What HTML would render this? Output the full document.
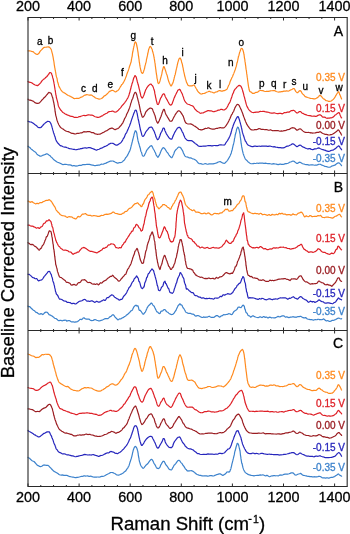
<!DOCTYPE html><html><head><meta charset="utf-8"><style>html,body{margin:0;padding:0;background:#fff;overflow:hidden}svg{display:block;will-change:transform}</style></head><body><svg width="350" height="534" viewBox="0 0 350 534"><rect width="350" height="534" fill="#fff"/><path d="M28.0,50.81 L28.6,50.89 L29.5,50.88 L30.5,50.99 L31.6,51.35 L32.6,51.55 L33.4,51.89 L34.1,52.60 L34.9,53.30 L35.7,53.87 L36.4,54.27 L37.1,54.45 L37.7,54.31 L38.4,53.84 L39.0,53.23 L39.5,52.42 L40.1,51.43 L40.6,50.74 L41.2,50.17 L41.8,49.56 L42.3,49.03 L42.8,48.51 L43.4,47.86 L44.4,47.32 L45.3,47.26 L46.3,47.20 L47.3,47.01 L48.2,46.87 L49.1,47.11 L49.8,47.61 L50.3,48.12 L50.9,48.99 L51.2,49.45 L51.4,50.19 L51.7,51.14 L51.9,52.12 L52.2,53.10 L52.4,53.81 L52.6,54.65 L52.8,55.81 L53.0,56.58 L53.1,57.08 L53.2,57.86 L53.4,58.83 L53.5,59.82 L53.7,60.61 L53.8,61.06 L53.9,61.73 L54.0,62.44 L54.1,63.28 L54.2,64.13 L54.3,64.86 L54.5,65.89 L54.6,66.98 L54.8,67.79 L55.0,68.72 L55.1,69.56 L55.3,70.39 L55.4,71.16 L55.6,72.08 L55.8,73.07 L55.9,74.12 L56.1,75.16 L56.3,76.10 L56.5,76.89 L56.7,77.41 L56.9,77.85 L57.1,78.75 L57.3,80.07 L57.4,81.08 L57.6,81.82 L57.8,82.57 L58.0,83.00 L58.3,83.99 L58.6,85.23 L58.9,86.29 L59.2,86.92 L59.5,87.36 L59.9,87.97 L60.2,88.61 L60.6,89.31 L61.0,90.05 L61.5,90.77 L62.1,91.38 L62.7,91.91 L63.3,92.50 L64.0,92.82 L64.6,92.95 L65.3,93.41 L66.0,93.99 L66.7,94.50 L67.5,95.08 L68.2,95.51 L69.0,95.78 L69.8,96.07 L70.5,96.47 L71.3,96.88 L72.0,97.23 L72.9,97.85 L73.7,98.40 L74.6,98.57 L75.4,98.48 L76.2,98.33 L77.0,98.32 L77.8,98.42 L78.7,98.42 L79.6,98.02 L80.4,97.43 L81.2,97.08 L82.0,96.85 L82.8,96.49 L83.6,95.87 L84.4,95.29 L85.2,95.07 L86.0,94.84 L86.8,94.65 L87.7,94.78 L88.6,94.98 L89.4,95.11 L90.3,95.05 L91.0,94.96 L91.8,95.19 L92.4,95.63 L93.1,96.22 L94.0,96.70 L94.7,97.23 L95.5,97.95 L96.4,98.23 L97.3,98.53 L98.3,98.94 L99.2,99.08 L100.0,98.97 L100.8,98.71 L101.5,98.45 L102.2,98.15 L102.8,97.54 L103.5,96.74 L104.2,96.01 L105.0,95.57 L105.6,95.34 L106.1,94.85 L106.7,94.31 L107.3,93.76 L107.9,93.18 L108.6,92.45 L109.2,91.62 L109.8,91.19 L110.4,91.12 L111.0,90.78 L111.9,90.37 L112.7,90.44 L113.6,90.75 L114.5,91.37 L115.3,91.91 L116.1,91.74 L116.9,91.07 L117.5,90.70 L118.0,90.49 L118.5,89.88 L119.1,89.05 L119.5,88.31 L120.0,87.49 L120.5,86.58 L121.0,85.83 L121.4,85.13 L121.9,84.47 L122.3,84.19 L122.8,83.68 L123.2,82.82 L123.6,82.13 L124.1,81.31 L124.5,80.36 L124.9,79.58 L125.2,78.92 L125.5,78.14 L125.8,77.36 L126.1,76.60 L126.4,75.97 L126.6,75.18 L126.9,74.17 L127.2,73.23 L127.5,72.45 L127.8,71.76 L128.0,71.15 L128.3,70.54 L128.6,69.66 L128.9,68.69 L129.1,67.87 L129.4,67.02 L129.6,66.20 L129.9,65.56 L130.1,64.87 L130.4,64.01 L130.6,63.21 L130.9,62.63 L131.1,61.80 L131.3,60.82 L131.4,59.82 L131.6,58.90 L131.7,58.05 L131.9,57.37 L132.0,56.89 L132.2,56.09 L132.3,54.97 L132.4,53.97 L132.6,52.95 L132.7,52.08 L132.9,51.49 L133.0,50.85 L133.1,50.27 L133.3,49.55 L133.4,48.69 L133.7,47.45 L133.9,46.42 L134.2,45.41 L134.4,44.19 L134.7,43.17 L134.9,42.44 L135.2,41.89 L135.4,41.87 L135.6,42.15 L135.9,42.45 L136.1,42.81 L136.3,43.51 L136.6,44.54 L136.8,45.75 L137.1,47.00 L137.4,48.39 L137.5,49.16 L137.6,49.79 L137.7,50.26 L137.8,51.10 L138.0,52.06 L138.1,52.89 L138.2,53.73 L138.3,54.64 L138.4,55.49 L138.6,56.35 L138.7,57.16 L138.8,58.09 L139.0,59.24 L139.1,60.28 L139.2,61.21 L139.3,62.10 L139.5,62.88 L139.6,63.65 L139.7,64.49 L139.8,65.25 L140.0,66.07 L140.1,66.93 L140.2,67.41 L140.3,67.91 L140.7,69.69 L141.0,71.03 L141.3,72.02 L141.6,72.67 L141.9,73.06 L142.3,73.33 L142.6,73.33 L142.8,73.14 L143.1,72.85 L143.3,72.22 L143.6,71.40 L143.8,70.73 L144.1,69.91 L144.3,69.10 L144.6,68.32 L144.8,66.93 L145.1,65.67 L145.4,64.69 L145.6,63.84 L145.7,63.21 L145.9,62.73 L146.1,61.95 L146.3,60.92 L146.4,59.89 L146.6,59.14 L146.8,58.33 L147.0,57.35 L147.2,56.56 L147.4,55.71 L147.6,54.65 L147.8,53.75 L147.9,53.04 L148.1,52.37 L148.3,51.52 L148.4,50.59 L148.6,49.85 L148.8,49.32 L148.9,48.90 L149.7,46.87 L150.3,46.47 L151.0,47.19 L151.2,47.44 L151.4,47.93 L151.6,48.41 L151.8,48.74 L152.0,49.04 L152.3,49.88 L152.5,51.05 L152.7,51.84 L153.0,52.56 L153.2,53.47 L153.5,54.41 L153.7,55.57 L154.0,57.05 L154.1,57.73 L154.2,58.28 L154.3,58.95 L154.5,59.87 L154.6,60.55 L154.7,61.19 L154.8,62.18 L155.0,63.03 L155.1,63.70 L155.2,64.65 L155.3,65.81 L155.5,66.87 L155.6,67.82 L155.7,68.82 L155.9,69.87 L156.0,70.82 L156.1,71.83 L156.3,73.00 L156.4,73.96 L156.5,74.55 L156.7,75.26 L156.8,76.23 L156.9,77.14 L157.0,78.07 L157.2,78.81 L157.3,79.18 L157.4,79.72 L157.5,80.51 L157.7,81.46 L157.8,82.28 L157.9,82.67 L158.0,82.92 L158.5,83.59 L158.9,83.31 L159.4,82.62 L159.8,81.60 L160.2,80.13 L160.6,78.42 L161.0,76.98 L161.2,76.13 L161.5,75.26 L161.7,74.40 L161.9,73.41 L162.1,72.24 L162.3,71.04 L162.6,70.07 L162.8,69.25 L163.0,68.54 L163.2,67.79 L163.4,67.06 L163.6,66.67 L164.0,66.62 L164.3,67.15 L164.6,68.04 L165.0,69.16 L165.5,70.55 L166.0,72.18 L166.2,72.89 L166.4,73.72 L166.7,74.34 L167.0,74.85 L167.2,75.67 L167.5,76.80 L167.8,78.06 L168.1,79.31 L168.4,80.34 L168.7,81.18 L169.0,81.97 L169.3,82.78 L169.6,83.47 L169.9,84.00 L170.2,84.73 L170.5,85.34 L170.7,85.68 L171.0,85.91 L171.3,86.01 L171.6,85.60 L171.9,84.65 L172.2,84.10 L172.5,83.77 L172.8,83.15 L173.1,82.31 L173.4,81.27 L173.7,80.12 L174.0,78.99 L174.2,77.97 L174.5,76.93 L174.7,75.84 L175.0,75.06 L175.2,74.50 L175.4,73.57 L175.6,72.55 L175.8,71.54 L176.0,70.63 L176.2,69.77 L176.4,68.91 L176.6,68.16 L176.8,67.28 L177.0,66.37 L177.2,65.52 L177.3,64.75 L177.5,64.04 L177.7,63.27 L177.8,62.66 L178.0,62.07 L178.5,60.37 L178.9,59.22 L179.2,58.65 L179.6,58.32 L180.0,57.99 L180.3,58.06 L180.6,58.80 L180.9,59.60 L181.3,60.56 L181.6,61.98 L182.0,63.40 L182.2,63.63 L182.3,64.23 L182.5,65.12 L182.6,65.98 L182.8,66.84 L183.0,67.60 L183.2,68.44 L183.3,69.36 L183.5,70.37 L183.7,71.38 L183.9,72.21 L184.1,73.06 L184.3,73.94 L184.5,74.86 L184.6,75.70 L184.8,76.30 L185.0,76.93 L185.3,78.17 L185.6,79.28 L185.9,80.15 L186.2,81.18 L186.4,82.08 L186.7,82.62 L187.0,83.21 L187.3,83.84 L187.7,84.65 L188.0,85.29 L188.8,85.75 L189.6,85.81 L190.5,85.78 L191.3,85.87 L192.0,85.90 L193.1,85.22 L194.0,85.00 L194.4,85.31 L194.8,86.00 L195.2,86.81 L195.6,87.55 L196.0,88.27 L196.5,89.00 L197.0,89.89 L197.5,90.86 L198.1,91.68 L198.6,92.27 L199.2,92.69 L199.8,93.21 L200.4,93.76 L201.0,94.07 L201.8,94.01 L202.6,93.67 L203.4,93.51 L204.2,93.41 L205.0,93.10 L205.8,92.66 L206.6,92.25 L207.3,92.02 L208.1,91.74 L209.0,91.31 L209.8,91.46 L210.6,91.85 L211.4,92.03 L212.3,92.30 L213.2,92.64 L214.0,92.87 L214.8,92.59 L215.7,92.01 L216.6,91.83 L217.4,91.64 L218.2,91.08 L219.0,90.67 L219.9,90.66 L220.7,90.88 L221.5,91.10 L222.2,91.11 L223.0,90.82 L223.8,90.65 L224.6,90.59 L225.3,90.16 L226.1,89.71 L226.9,89.24 L227.2,88.67 L227.6,87.74 L227.9,86.97 L228.3,86.18 L228.6,85.40 L229.0,84.79 L229.3,84.18 L229.7,83.21 L230.0,82.05 L230.4,81.08 L230.7,80.32 L231.1,79.61 L231.4,78.86 L231.7,78.08 L232.0,77.47 L232.3,76.96 L232.7,76.15 L233.0,75.16 L233.3,74.49 L233.6,73.90 L233.9,73.15 L234.2,72.34 L234.5,71.57 L234.8,70.74 L235.1,69.91 L235.4,69.18 L235.6,68.30 L235.9,67.40 L236.1,66.85 L236.3,66.22 L236.5,65.39 L236.7,64.32 L236.9,63.23 L237.2,62.55 L237.4,61.83 L237.6,60.90 L237.8,59.82 L238.0,58.78 L238.2,57.86 L238.4,57.01 L238.5,56.44 L238.7,55.92 L238.9,55.42 L239.2,54.20 L239.5,52.89 L239.8,51.97 L240.1,51.32 L240.4,50.58 L240.6,49.65 L240.9,48.94 L241.1,48.68 L241.4,48.54 L241.9,48.37 L242.4,48.90 L242.9,50.04 L243.5,52.01 L243.6,52.41 L243.7,53.01 L243.8,53.52 L243.9,54.00 L244.0,54.73 L244.2,55.76 L244.3,56.79 L244.4,57.58 L244.5,58.06 L244.6,58.62 L244.8,59.47 L244.9,60.57 L245.0,61.63 L245.2,62.42 L245.3,63.22 L245.4,64.14 L245.5,64.95 L245.7,65.79 L245.8,66.85 L245.9,67.83 L246.0,68.69 L246.1,69.41 L246.3,70.11 L246.4,70.88 L246.5,71.71 L246.6,72.63 L246.7,73.64 L246.9,74.51 L247.0,75.29 L247.1,76.24 L247.2,77.17 L247.4,77.97 L247.5,78.98 L247.6,79.89 L247.7,80.61 L247.8,81.48 L248.0,82.66 L248.1,83.58 L248.2,84.15 L248.3,84.89 L248.4,85.58 L248.5,86.25 L248.6,87.10 L248.8,87.73 L248.9,88.22 L249.0,88.94 L249.1,89.57 L249.7,91.27 L250.3,91.87 L250.9,91.94 L251.5,92.32 L252.2,93.11 L252.8,93.42 L254.0,93.35 L254.6,93.13 L255.3,92.62 L256.1,92.37 L256.9,92.36 L257.8,92.02 L258.6,91.31 L259.5,90.74 L260.3,90.51 L261.0,90.50 L261.9,90.55 L262.7,90.60 L263.5,90.84 L264.3,91.24 L265.1,91.49 L266.0,91.46 L266.8,91.37 L267.7,91.38 L268.6,91.39 L269.5,91.20 L270.4,90.87 L271.3,90.75 L272.2,90.75 L273.0,90.62 L273.9,90.48 L274.8,90.68 L275.6,91.10 L276.3,91.46 L277.1,91.76 L278.0,91.98 L278.8,92.03 L279.6,91.93 L280.5,91.80 L281.4,91.68 L282.3,91.58 L283.1,91.34 L284.0,91.14 L284.9,91.21 L285.8,91.06 L286.7,90.84 L287.6,91.03 L288.5,91.06 L289.3,90.72 L290.0,90.31 L290.9,89.89 L291.6,89.56 L292.3,89.16 L292.9,88.78 L293.6,88.49 L294.2,88.65 L294.8,89.48 L295.3,90.64 L295.9,91.61 L296.5,92.13 L297.0,92.66 L297.8,92.68 L298.6,91.70 L299.3,90.79 L300.0,90.60 L300.6,90.88 L301.2,91.53 L301.7,92.57 L302.4,93.64 L302.9,94.17 L303.4,94.57 L304.0,95.19 L304.6,95.97 L305.2,96.58 L306.0,96.94 L306.7,97.15 L307.6,97.49 L308.5,97.73 L309.4,98.05 L310.3,98.43 L311.2,98.51 L312.0,98.48 L312.9,98.62 L313.8,98.83 L314.7,98.82 L315.5,98.61 L316.3,98.28 L317.0,97.89 L317.9,97.33 L318.6,96.52 L319.3,95.66 L320.0,95.32 L320.7,95.59 L321.4,96.39 L322.2,97.40 L323.0,98.32 L323.6,98.87 L324.3,99.15 L324.9,99.58 L325.6,100.38 L326.3,100.77 L327.0,100.73 L327.8,101.03 L328.6,101.42 L329.4,101.42 L330.2,101.23 L331.0,101.06 L331.6,100.70 L332.2,100.13 L332.7,99.82 L333.3,99.38 L333.9,98.67 L334.5,97.92 L335.0,97.09 L335.5,96.15 L336.1,95.15 L336.6,94.27 L337.1,93.49 L337.6,92.84 L338.0,92.24 L338.4,91.74 L338.9,92.04 L339.3,93.21 L339.6,94.34 L340.0,95.05 L340.3,95.70 L340.7,96.66 L341.1,97.70 L341.4,98.58 L341.6,98.94" fill="none" stroke="#FF8A1E" stroke-width="1.2" stroke-linejoin="round" stroke-linecap="round"/><path d="M28.0,81.60 L28.5,81.88 L29.2,82.18 L30.1,82.28 L31.0,82.47 L32.0,82.97 L32.7,83.55 L33.5,84.10 L34.3,84.51 L35.1,84.96 L35.9,85.22 L36.7,85.42 L37.4,85.68 L38.1,85.40 L38.8,84.60 L39.5,83.94 L40.1,83.40 L40.8,82.58 L41.4,81.60 L42.0,80.79 L42.6,80.19 L43.2,79.61 L43.7,79.09 L44.3,78.85 L44.9,78.46 L45.4,77.77 L46.0,77.23 L46.6,76.77 L47.3,76.04 L47.9,75.22 L48.6,74.38 L49.2,73.36 L49.7,72.67 L50.2,72.62 L51.0,72.77 L51.5,73.52 L52.0,74.98 L52.2,75.44 L52.4,76.07 L52.6,77.03 L52.8,77.91 L53.0,78.55 L53.2,79.15 L53.4,80.01 L53.6,81.11 L53.8,82.00 L54.0,83.05 L54.1,83.92 L54.3,84.63 L54.4,85.31 L54.5,85.97 L54.6,86.81 L54.8,87.76 L54.9,88.61 L55.0,89.26 L55.1,89.93 L55.3,90.82 L55.4,91.60 L55.5,92.39 L55.7,93.49 L55.8,94.55 L56.0,95.23 L56.2,95.92 L56.3,97.02 L56.5,98.05 L56.7,98.66 L56.9,99.33 L57.1,100.07 L57.3,100.81 L57.5,101.59 L57.7,102.25 L57.9,103.24 L58.1,104.52 L58.3,105.42 L58.5,106.16 L58.8,106.78 L59.0,107.10 L59.4,107.86 L59.9,108.69 L60.4,109.66 L60.9,110.32 L61.4,110.71 L61.9,111.29 L62.4,111.93 L63.0,112.43 L63.6,112.81 L64.2,113.16 L64.9,113.70 L65.5,114.06 L66.3,114.34 L67.1,114.88 L68.0,115.26 L68.7,115.36 L69.4,115.75 L70.2,116.22 L71.1,116.29 L71.9,116.27 L72.8,116.59 L73.7,117.06 L74.6,117.36 L75.4,117.38 L76.2,117.35 L77.0,117.49 L77.9,117.27 L78.7,116.76 L79.4,116.65 L80.2,116.63 L80.9,116.31 L81.7,116.00 L82.4,115.78 L83.2,115.48 L84.0,115.35 L84.8,115.56 L85.6,115.60 L86.5,115.32 L87.3,115.04 L88.2,114.92 L89.0,114.91 L89.9,115.03 L90.6,115.19 L91.4,115.22 L92.0,115.18 L93.1,115.50 L93.9,116.08 L94.6,116.51 L95.3,116.77 L96.0,116.97 L96.8,117.14 L97.5,117.38 L98.3,117.41 L99.1,117.22 L100.0,116.90 L100.7,116.43 L101.4,116.10 L102.1,115.96 L102.9,115.40 L103.7,114.73 L104.5,114.35 L105.2,113.93 L106.0,113.51 L106.9,113.22 L107.7,112.57 L108.6,111.83 L109.4,111.55 L110.3,111.49 L111.1,111.49 L111.8,111.19 L112.7,111.02 L113.5,111.55 L114.3,111.94 L115.1,112.04 L116.0,112.00 L116.5,111.71 L117.1,111.21 L117.7,110.78 L118.4,110.09 L119.0,109.33 L119.7,108.70 L120.3,108.10 L120.9,107.39 L121.5,106.45 L122.0,105.73 L122.6,105.13 L123.2,104.54 L123.7,103.91 L124.1,103.34 L124.6,102.80 L125.0,102.22 L125.5,101.59 L125.9,101.03 L126.3,100.44 L126.7,99.73 L127.0,99.06 L127.4,98.62 L127.8,97.93 L128.2,97.01 L128.6,96.13 L129.0,94.98 L129.2,94.21 L129.4,93.50 L129.7,92.84 L129.9,92.09 L130.1,91.17 L130.3,90.17 L130.6,89.29 L130.8,88.51 L131.0,87.54 L131.2,86.53 L131.5,85.70 L131.7,84.99 L131.9,84.18 L132.1,83.36 L132.3,82.97 L132.5,82.62 L132.7,81.94 L133.1,80.33 L133.5,78.74 L133.9,77.67 L134.3,76.97 L134.6,76.07 L135.0,75.58 L135.4,75.90 L135.6,76.27 L135.9,76.52 L136.1,76.99 L136.4,77.79 L136.6,78.68 L136.8,79.62 L137.1,80.65 L137.3,81.70 L137.6,82.62 L137.9,83.60 L138.1,84.59 L138.4,85.34 L138.6,86.10 L138.8,87.11 L139.0,87.96 L139.2,88.82 L139.5,89.81 L139.7,90.71 L139.9,91.65 L140.1,92.75 L140.4,93.67 L140.6,94.67 L140.8,95.70 L141.0,96.32 L141.3,96.70 L141.5,97.11 L141.8,97.62 L142.0,98.02 L142.3,98.04 L142.7,97.67 L143.0,97.09 L143.3,96.37 L143.7,95.50 L144.1,94.47 L144.4,93.52 L144.8,92.59 L145.1,91.42 L145.5,90.39 L145.8,89.62 L146.2,88.95 L146.7,88.01 L147.3,87.07 L147.9,86.31 L148.4,85.68 L149.0,85.14 L149.6,84.65 L150.1,84.27 L150.6,84.07 L151.1,84.16 L151.5,84.52 L151.9,85.06 L152.4,85.64 L152.8,86.15 L153.2,87.13 L153.6,88.41 L154.0,89.51 L154.2,90.07 L154.4,90.73 L154.6,91.46 L154.7,92.55 L154.9,93.66 L155.1,94.52 L155.3,95.44 L155.5,96.54 L155.7,97.51 L155.9,98.43 L156.1,99.40 L156.3,100.29 L156.5,101.10 L156.7,101.84 L156.9,102.50 L157.0,103.16 L157.2,103.86 L157.4,104.31 L157.6,104.43 L158.0,104.53 L158.4,104.21 L158.8,103.43 L159.2,102.54 L159.5,101.49 L159.9,100.17 L160.3,99.07 L160.6,98.28 L161.0,97.70 L161.5,96.88 L162.0,95.85 L162.5,94.84 L162.9,94.24 L163.4,93.90 L163.8,93.75 L164.2,94.04 L164.5,94.57 L164.8,95.28 L165.1,96.15 L165.5,96.99 L166.0,97.94 L166.4,98.67 L166.8,99.39 L167.3,100.17 L167.8,101.21 L168.4,102.34 L168.9,103.33 L169.5,104.23 L170.0,104.80 L170.5,105.10 L171.0,105.14 L171.4,104.78 L171.7,104.35 L172.1,103.84 L172.4,102.98 L172.7,102.06 L173.1,101.11 L173.4,100.23 L173.7,99.36 L174.0,98.36 L174.3,97.61 L174.7,96.92 L175.0,96.12 L175.4,95.27 L175.9,94.31 L176.4,93.21 L176.8,92.38 L177.3,91.55 L177.7,90.59 L178.2,89.96 L178.6,89.75 L179.0,89.61 L179.5,89.37 L180.0,89.61 L180.5,90.48 L181.0,91.51 L181.5,92.43 L182.0,93.41 L182.3,94.01 L182.6,94.93 L182.9,95.93 L183.2,96.62 L183.5,97.38 L183.8,98.45 L184.1,99.43 L184.5,100.31 L184.8,101.01 L185.2,101.54 L185.6,102.12 L186.0,102.64 L186.7,103.40 L187.4,104.00 L188.2,104.26 L189.0,104.47 L189.8,104.82 L190.6,105.24 L191.3,105.51 L192.0,105.66 L192.7,106.03 L193.3,106.57 L193.8,107.21 L194.3,108.05 L194.8,108.87 L195.4,109.49 L196.0,110.12 L196.6,110.77 L197.3,111.31 L198.0,111.73 L198.7,112.08 L199.4,112.63 L200.2,113.23 L201.0,113.29 L201.7,112.96 L202.4,113.00 L203.2,112.93 L204.0,112.37 L204.8,112.00 L205.7,111.65 L206.5,111.25 L207.3,110.91 L208.0,110.66 L208.9,110.70 L209.8,110.79 L210.6,110.79 L211.5,110.92 L212.3,111.32 L213.2,111.75 L214.0,111.71 L214.9,111.34 L215.7,111.18 L216.6,110.97 L217.5,110.42 L218.4,110.09 L219.2,110.09 L220.0,109.77 L220.9,109.36 L221.7,109.37 L222.6,109.65 L223.4,110.00 L224.2,110.01 L225.0,109.44 L225.5,109.07 L225.9,108.86 L226.4,108.33 L226.9,107.54 L227.3,106.86 L227.8,105.92 L228.3,104.73 L228.7,103.92 L229.2,103.32 L229.6,102.65 L230.0,101.93 L230.3,101.11 L230.6,100.28 L230.9,99.39 L231.2,98.40 L231.5,97.66 L231.8,96.91 L232.1,95.90 L232.4,94.86 L232.7,93.98 L233.0,93.43 L233.2,93.13 L233.5,92.68 L233.7,91.75 L234.0,90.83 L234.6,89.86 L235.1,89.20 L235.6,88.65 L236.1,88.05 L236.6,87.35 L237.0,87.04 L237.8,86.39 L238.5,85.64 L239.3,85.43 L239.8,85.59 L240.3,85.75 L240.9,86.28 L241.4,87.16 L242.0,88.47 L242.2,89.19 L242.4,89.64 L242.6,90.34 L242.8,91.33 L243.0,92.10 L243.3,92.84 L243.5,93.61 L243.7,94.44 L243.9,95.40 L244.1,96.25 L244.4,96.99 L244.6,97.78 L244.8,98.57 L245.0,99.40 L245.3,100.51 L245.5,101.44 L245.8,102.31 L246.0,103.35 L246.3,104.38 L246.6,105.20 L246.8,105.95 L247.1,106.63 L247.4,107.08 L247.7,107.56 L248.0,108.19 L248.6,109.30 L249.3,110.17 L249.9,110.73 L250.6,111.37 L251.3,111.90 L252.0,112.20 L252.8,112.52 L253.5,112.56 L254.3,112.46 L255.1,112.36 L256.0,112.14 L256.8,112.01 L257.7,112.13 L258.7,112.06 L259.6,111.66 L260.5,111.44 L261.4,111.50 L262.3,111.45 L263.2,111.31 L264.0,111.43 L264.9,111.62 L266.0,111.79 L266.8,112.06 L267.6,112.16 L268.4,112.27 L269.4,112.67 L270.3,112.93 L271.2,113.03 L272.1,113.11 L273.0,113.08 L273.9,112.97 L274.7,112.97 L275.6,113.23 L276.4,113.49 L277.3,113.57 L278.2,113.54 L279.1,113.39 L280.0,113.28 L280.8,113.36 L281.6,113.69 L282.4,113.79 L283.3,113.24 L284.1,112.68 L285.0,112.66 L285.8,112.75 L286.6,112.41 L287.3,112.08 L288.0,112.18 L289.0,112.16 L289.9,111.62 L290.8,110.86 L291.5,110.52 L292.3,110.56 L293.0,110.45 L293.9,110.39 L294.7,110.98 L295.5,111.92 L296.3,112.61 L297.0,113.01 L297.8,112.90 L298.5,112.20 L299.2,111.63 L300.0,111.50 L300.6,111.63 L301.2,112.16 L301.8,112.95 L302.5,113.32 L303.2,113.41 L304.0,113.90 L304.8,114.43 L305.6,114.66 L306.4,114.88 L307.3,115.20 L308.2,115.47 L309.1,115.61 L310.0,115.60 L310.9,115.83 L311.8,116.21 L312.7,116.27 L313.6,116.16 L314.5,116.20 L315.3,116.41 L316.0,116.42 L317.1,115.88 L318.0,115.39 L318.8,114.98 L319.6,114.71 L320.4,114.90 L321.2,115.43 L322.0,116.47 L323.0,117.27 L323.7,117.18 L324.4,117.08 L325.2,117.35 L326.1,117.96 L326.9,118.30 L327.7,118.10 L328.5,118.07 L329.4,118.14 L330.2,117.93 L331.0,117.82 L331.9,117.63 L332.7,117.23 L333.5,116.85 L334.2,116.02 L335.0,115.09 L335.8,114.68 L336.5,114.12 L337.2,113.49 L337.9,113.13 L338.4,112.72 L339.2,112.69 L339.6,113.55 L340.0,114.67 L340.4,115.66 L340.9,116.82 L341.3,117.66 L341.6,117.85" fill="none" stroke="#DE1F26" stroke-width="1.2" stroke-linejoin="round" stroke-linecap="round"/><path d="M28.0,99.19 L28.5,99.76 L29.3,100.05 L30.2,100.15 L31.1,100.42 L32.1,100.73 L33.0,101.07 L33.8,101.63 L34.6,102.39 L35.5,102.84 L36.3,103.13 L37.1,103.44 L38.0,103.35 L38.6,103.20 L39.2,102.97 L39.8,102.44 L40.4,101.81 L41.0,101.11 L41.6,100.33 L42.2,99.75 L42.9,99.13 L43.5,98.29 L44.1,97.71 L44.7,97.20 L45.4,96.54 L46.1,95.69 L46.7,94.91 L47.4,94.27 L48.0,93.41 L48.6,92.55 L49.1,92.36 L49.6,92.75 L50.5,92.94 L51.1,93.31 L51.5,94.35 L52.0,95.87 L52.2,96.52 L52.4,96.98 L52.6,97.49 L52.8,98.20 L53.0,99.14 L53.2,100.25 L53.4,101.22 L53.6,102.03 L53.8,102.76 L54.0,103.80 L54.1,104.56 L54.3,105.26 L54.4,106.40 L54.5,107.28 L54.6,107.69 L54.8,108.36 L54.9,109.33 L55.0,110.46 L55.1,111.48 L55.3,112.23 L55.4,112.94 L55.5,113.79 L55.7,114.78 L55.8,115.62 L56.0,116.15 L56.2,116.86 L56.5,117.82 L56.7,119.05 L57.0,120.08 L57.2,120.76 L57.5,121.57 L57.8,122.40 L58.1,123.09 L58.4,123.79 L58.7,124.46 L59.0,124.98 L59.5,125.78 L60.0,126.71 L60.5,127.45 L61.1,127.83 L61.7,128.17 L62.3,128.66 L63.0,129.04 L63.6,129.39 L64.3,129.93 L65.0,130.41 L65.8,130.87 L66.5,131.21 L67.3,131.48 L68.1,131.65 L69.0,131.89 L69.7,132.32 L70.5,132.71 L71.3,133.10 L72.1,133.38 L72.9,133.40 L73.8,133.57 L74.6,133.87 L75.4,134.00 L76.2,133.72 L77.0,133.42 L77.8,133.42 L78.6,133.37 L79.4,133.23 L80.1,133.04 L80.9,132.84 L81.6,132.80 L82.4,132.60 L83.2,131.98 L84.0,131.66 L84.8,131.86 L85.6,131.90 L86.5,131.80 L87.3,131.70 L88.2,131.67 L89.0,131.64 L89.9,131.70 L90.6,132.10 L91.4,132.60 L92.0,132.69 L93.1,132.66 L93.9,132.92 L94.6,133.47 L95.3,133.96 L96.0,134.00 L96.8,134.10 L97.5,134.44 L98.3,134.25 L99.1,134.13 L100.0,134.24 L100.7,133.85 L101.4,133.34 L102.1,133.03 L102.9,132.63 L103.7,132.28 L104.5,131.88 L105.3,131.29 L106.0,130.93 L106.8,130.72 L107.7,130.12 L108.5,129.43 L109.3,128.92 L110.1,128.56 L110.9,128.31 L111.6,128.09 L112.5,128.18 L113.4,128.68 L114.2,129.30 L115.0,129.64 L116.0,129.36 L116.5,128.99 L117.1,128.73 L117.7,128.61 L118.2,128.38 L118.8,127.82 L119.5,127.02 L120.1,126.28 L120.7,125.78 L121.4,124.97 L122.0,123.88 L122.3,123.53 L122.7,123.16 L123.0,122.47 L123.4,121.55 L123.8,120.68 L124.2,119.85 L124.5,118.86 L124.9,118.08 L125.3,117.56 L125.7,116.82 L126.1,115.95 L126.4,115.05 L126.8,114.10 L127.2,113.31 L127.5,112.71 L127.8,112.09 L128.2,111.24 L128.5,110.45 L128.7,109.93 L129.0,109.34 L129.4,108.15 L129.8,107.13 L130.1,106.14 L130.4,105.13 L130.6,104.15 L130.8,103.34 L131.0,102.78 L131.3,102.14 L131.5,101.41 L131.7,100.57 L132.0,99.84 L132.3,99.27 L132.7,98.50 L133.0,97.48 L133.4,96.26 L133.7,95.09 L134.0,94.22 L134.4,93.48 L134.7,92.79 L135.1,92.37 L135.4,92.36 L135.7,92.52 L135.9,92.77 L136.2,93.21 L136.4,93.80 L136.6,94.55 L136.9,95.37 L137.1,96.31 L137.3,97.35 L137.6,98.16 L137.8,99.08 L138.1,100.31 L138.4,101.42 L138.6,101.94 L138.8,102.78 L138.9,103.69 L139.1,104.27 L139.3,105.06 L139.5,106.12 L139.7,107.10 L139.9,108.13 L140.1,109.21 L140.3,110.28 L140.5,111.25 L140.8,112.12 L141.0,112.96 L141.2,113.63 L141.4,114.29 L141.6,114.98 L141.8,115.64 L142.0,116.26 L142.2,116.72 L142.4,117.10 L142.9,117.26 L143.4,116.69 L143.9,116.12 L144.4,115.34 L144.9,114.23 L145.4,113.01 L145.9,111.85 L146.4,111.22 L147.1,110.49 L147.9,109.59 L148.7,109.01 L149.4,108.52 L150.1,108.05 L150.8,108.00 L151.3,108.34 L151.8,108.50 L152.2,108.82 L152.7,109.81 L153.1,110.92 L153.5,111.94 L154.0,113.05 L154.3,113.84 L154.5,114.47 L154.8,114.99 L155.1,115.95 L155.4,117.01 L155.6,118.02 L155.9,119.19 L156.2,120.17 L156.5,120.91 L156.8,121.63 L157.1,122.23 L157.3,122.71 L157.6,123.12 L158.0,123.05 L158.4,122.37 L158.8,121.56 L159.2,120.78 L159.5,119.93 L159.9,118.93 L160.3,118.00 L160.6,117.26 L161.0,116.45 L161.4,115.32 L161.8,114.13 L162.1,112.95 L162.5,111.97 L162.8,111.19 L163.2,110.17 L163.5,109.48 L163.8,109.34 L164.2,109.38 L164.5,110.01 L164.8,111.08 L165.1,112.18 L165.5,113.40 L166.0,114.54 L166.4,115.08 L166.8,115.81 L167.3,116.75 L167.8,117.67 L168.4,118.48 L168.9,119.37 L169.5,120.49 L170.0,121.22 L170.5,121.24 L171.0,121.12 L171.5,121.17 L172.0,120.85 L172.4,120.10 L172.8,119.26 L173.3,118.30 L173.7,117.41 L174.1,116.72 L174.6,115.96 L175.0,115.02 L175.6,114.07 L176.1,113.41 L176.7,112.61 L177.3,111.72 L177.9,111.14 L178.4,110.77 L179.0,110.73 L179.5,111.09 L180.0,111.40 L180.5,111.84 L181.1,112.83 L181.6,113.80 L182.1,114.29 L182.5,114.94 L183.0,115.84 L183.4,116.63 L183.7,117.61 L184.0,118.51 L184.2,119.20 L184.5,120.15 L184.8,121.11 L185.2,121.77 L185.5,122.40 L186.0,123.02 L186.7,123.54 L187.6,123.79 L188.5,123.98 L189.4,124.01 L190.3,123.93 L191.2,124.08 L192.0,124.41 L192.9,125.01 L193.7,125.54 L194.4,125.94 L195.2,126.34 L196.0,126.95 L196.6,127.45 L197.3,127.83 L198.0,128.52 L198.7,129.22 L199.4,129.47 L200.2,129.63 L201.0,129.88 L201.7,129.88 L202.4,129.59 L203.2,129.38 L204.0,129.15 L204.8,128.60 L205.7,128.33 L206.5,128.49 L207.3,128.24 L208.0,127.82 L208.9,127.94 L209.8,128.34 L210.6,128.63 L211.5,128.89 L212.3,129.10 L213.2,129.21 L214.0,129.20 L214.9,128.91 L215.7,128.49 L216.6,128.39 L217.5,128.33 L218.4,128.04 L219.2,127.82 L220.0,127.70 L220.9,127.72 L221.7,127.94 L222.6,127.86 L223.4,127.81 L224.2,127.61 L225.0,126.87 L225.4,126.45 L225.8,125.90 L226.3,125.29 L226.7,124.61 L227.1,123.94 L227.6,123.34 L228.0,122.51 L228.4,121.71 L228.8,120.98 L229.2,120.11 L229.6,119.27 L230.0,118.52 L230.4,117.60 L230.8,116.49 L231.2,115.47 L231.5,114.90 L231.9,114.52 L232.3,113.75 L232.6,112.81 L233.0,112.18 L233.3,111.79 L233.7,111.23 L234.0,110.34 L234.5,109.06 L234.9,107.88 L235.4,106.94 L235.8,106.16 L236.3,105.53 L236.7,104.93 L237.2,104.50 L237.6,104.41 L238.1,104.48 L238.6,104.75 L239.0,105.26 L239.5,106.14 L240.0,107.24 L240.5,108.24 L241.0,109.39 L241.3,109.99 L241.5,110.57 L241.8,111.34 L242.1,112.06 L242.4,112.77 L242.7,113.57 L243.0,114.55 L243.3,115.56 L243.6,116.35 L243.9,117.11 L244.2,117.86 L244.5,118.62 L244.7,119.33 L245.0,120.04 L245.4,121.14 L245.8,122.08 L246.2,122.88 L246.5,123.58 L246.8,124.37 L247.2,124.92 L247.6,125.51 L248.0,126.20 L248.6,126.88 L249.1,127.65 L249.7,128.41 L250.3,129.10 L251.1,129.65 L252.0,129.95 L252.6,130.02 L253.3,129.99 L254.0,129.82 L254.8,129.53 L255.6,129.48 L256.5,129.60 L257.3,129.34 L258.2,128.92 L259.1,128.67 L260.0,128.74 L260.8,129.13 L261.5,129.37 L262.3,129.40 L263.1,129.37 L263.9,129.48 L264.8,129.71 L265.6,129.68 L266.4,129.61 L267.3,129.75 L268.2,130.12 L269.1,130.25 L270.0,129.96 L270.8,129.89 L271.5,130.25 L272.4,130.65 L273.2,130.72 L274.1,130.59 L274.9,130.60 L275.8,130.63 L276.7,130.58 L277.5,130.60 L278.4,130.71 L279.2,130.97 L280.0,131.24 L280.7,131.08 L281.4,130.95 L282.0,131.06 L283.2,130.93 L284.2,130.71 L285.0,130.56 L285.8,130.40 L286.5,130.15 L287.2,129.78 L288.0,129.61 L288.9,129.51 L289.8,129.10 L290.6,128.49 L291.4,128.00 L292.2,127.71 L293.0,127.78 L293.7,127.90 L294.4,128.02 L295.1,128.54 L295.8,129.19 L296.4,129.89 L297.0,130.20 L297.8,129.90 L298.5,129.49 L299.2,128.99 L300.0,128.77 L300.7,129.06 L301.4,129.63 L302.2,130.33 L303.1,131.11 L304.0,131.79 L304.8,132.12 L305.6,132.32 L306.4,132.44 L307.3,132.49 L308.2,132.40 L309.1,132.53 L310.0,132.79 L310.9,132.72 L311.8,132.85 L312.7,133.07 L313.6,133.02 L314.5,133.00 L315.3,132.88 L316.0,132.64 L317.1,132.43 L318.0,132.39 L318.8,132.29 L319.6,131.87 L320.4,131.76 L321.1,132.31 L322.0,132.98 L323.0,133.48 L323.7,133.76 L324.6,134.11 L325.4,134.33 L326.4,134.38 L327.3,134.61 L328.2,134.91 L329.0,135.01 L329.9,134.93 L330.8,134.70 L331.6,134.54 L332.4,134.29 L333.2,133.81 L334.0,133.38 L334.7,132.85 L335.4,132.27 L336.1,131.80 L336.7,131.24 L337.4,130.57 L337.9,130.01 L338.4,129.93 L339.1,130.57 L339.6,131.55 L340.0,132.15 L340.4,132.64 L340.9,133.62 L341.3,134.50 L341.6,135.03" fill="none" stroke="#9A1D22" stroke-width="1.2" stroke-linejoin="round" stroke-linecap="round"/><path d="M28.0,121.14 L28.5,121.45 L29.1,121.67 L29.8,121.86 L30.6,122.01 L31.5,122.21 L32.4,122.70 L33.2,123.28 L34.0,123.86 L34.7,124.48 L35.5,124.96 L36.2,125.46 L36.9,126.06 L37.6,126.82 L38.3,127.49 L39.0,127.67 L39.6,127.62 L40.3,127.71 L40.9,127.50 L41.6,126.75 L42.2,126.08 L42.8,125.49 L43.4,124.75 L44.0,124.01 L44.8,123.35 L45.5,122.74 L46.3,122.17 L47.1,121.62 L47.8,121.28 L48.4,121.39 L49.2,121.49 L49.8,121.88 L50.4,122.77 L51.0,123.89 L51.2,124.45 L51.4,125.20 L51.7,125.85 L51.9,126.61 L52.1,127.43 L52.4,128.44 L52.6,129.45 L52.8,130.13 L53.1,130.81 L53.3,131.69 L53.5,132.66 L53.8,133.26 L54.0,133.77 L54.3,134.76 L54.6,135.67 L54.9,136.46 L55.2,137.25 L55.4,138.25 L55.7,139.28 L56.0,140.11 L56.3,140.86 L56.7,141.43 L57.0,141.94 L57.5,142.66 L58.0,143.27 L58.5,143.78 L59.0,144.28 L59.6,144.97 L60.3,145.58 L61.0,145.82 L61.6,145.90 L62.3,146.29 L63.1,146.75 L63.9,146.99 L64.7,147.11 L65.5,147.17 L66.3,147.43 L67.2,147.77 L68.0,148.01 L68.8,148.39 L69.5,148.70 L70.3,148.75 L71.1,148.84 L71.9,149.00 L72.8,149.25 L73.6,149.41 L74.4,149.45 L75.2,149.64 L76.0,149.73 L76.8,149.57 L77.6,149.41 L78.4,149.21 L79.2,149.05 L80.0,148.87 L80.8,148.67 L81.6,148.59 L82.4,148.33 L83.2,148.06 L84.0,147.99 L84.8,147.90 L85.7,147.86 L86.5,148.04 L87.4,147.94 L88.2,147.72 L89.1,147.70 L89.9,147.64 L90.7,147.82 L91.4,148.16 L92.0,148.41 L93.1,148.78 L93.9,149.13 L94.6,149.42 L95.3,149.74 L96.0,150.08 L96.8,150.05 L97.5,149.70 L98.3,149.51 L99.1,149.27 L100.0,148.75 L100.7,148.35 L101.4,148.16 L102.1,147.96 L102.9,147.52 L103.7,147.06 L104.5,146.66 L105.2,146.33 L106.0,146.01 L106.8,145.63 L107.5,145.20 L108.3,144.61 L109.1,144.10 L109.8,143.75 L110.6,143.35 L111.3,143.26 L112.0,143.25 L112.9,143.32 L113.7,143.82 L114.6,144.38 L115.4,144.85 L116.2,145.12 L117.0,145.09 L117.6,144.93 L118.2,144.51 L118.8,144.07 L119.4,143.75 L120.0,143.37 L120.6,142.87 L121.3,142.07 L122.0,141.11 L122.3,140.69 L122.7,140.01 L123.0,139.14 L123.4,138.53 L123.7,138.23 L124.1,137.65 L124.5,136.82 L124.8,135.92 L125.2,134.85 L125.6,133.93 L126.0,133.42 L126.4,133.02 L126.8,132.28 L127.1,131.32 L127.5,130.44 L127.9,129.62 L128.3,128.70 L128.6,127.72 L129.0,126.94 L129.3,126.45 L129.6,125.73 L129.9,124.81 L130.2,123.98 L130.6,123.00 L130.9,121.93 L131.2,121.01 L131.5,120.07 L131.8,119.16 L132.1,118.24 L132.5,117.17 L132.8,116.23 L133.1,115.53 L133.3,114.89 L133.6,114.05 L133.9,113.20 L134.2,112.56 L134.5,111.99 L134.7,111.34 L134.9,110.65 L135.2,110.29 L135.4,110.20 L135.8,110.06 L136.1,110.22 L136.4,110.74 L136.6,111.39 L136.8,112.19 L137.1,113.20 L137.3,114.34 L137.5,115.44 L137.7,116.50 L137.9,117.52 L138.1,118.68 L138.4,120.01 L138.6,120.72 L138.8,121.38 L138.9,122.28 L139.1,123.19 L139.3,123.98 L139.5,124.97 L139.7,126.12 L139.9,127.06 L140.1,127.97 L140.3,129.06 L140.5,130.05 L140.8,130.86 L141.0,131.60 L141.2,132.33 L141.4,133.12 L141.6,133.96 L141.8,134.76 L142.0,135.31 L142.2,135.77 L142.4,136.08 L142.9,136.36 L143.4,136.25 L143.9,135.68 L144.4,134.78 L144.9,133.78 L145.4,132.70 L145.9,131.75 L146.4,131.09 L147.0,130.42 L147.7,129.63 L148.4,128.60 L149.1,127.71 L149.8,127.42 L150.4,127.21 L151.0,126.96 L151.6,127.14 L152.1,127.65 L152.6,128.38 L153.0,129.31 L153.5,130.16 L154.0,131.00 L154.3,131.67 L154.6,132.56 L154.9,133.41 L155.3,134.31 L155.6,135.35 L155.9,136.58 L156.3,137.50 L156.6,137.94 L156.9,138.63 L157.3,139.43 L157.6,139.72 L158.0,139.51 L158.4,139.09 L158.8,138.44 L159.2,137.63 L159.5,136.79 L159.9,135.73 L160.3,134.57 L160.6,133.54 L161.0,132.71 L161.4,132.00 L161.9,131.36 L162.3,130.33 L162.7,129.10 L163.1,128.22 L163.4,127.99 L163.8,128.04 L164.2,128.21 L164.5,129.02 L164.8,130.19 L165.1,130.99 L165.5,131.71 L166.0,132.91 L166.4,133.85 L166.9,134.59 L167.5,135.51 L168.1,136.46 L168.7,137.28 L169.3,138.05 L169.9,138.64 L170.5,138.97 L171.0,139.10 L171.4,139.15 L171.9,138.90 L172.3,137.93 L172.7,136.87 L173.1,136.11 L173.4,135.21 L173.8,134.37 L174.2,133.59 L174.6,132.64 L175.0,131.94 L175.5,131.16 L176.0,130.28 L176.5,129.51 L177.1,128.66 L177.6,127.94 L178.1,127.64 L178.5,127.58 L179.0,127.28 L179.5,127.25 L180.0,127.76 L180.5,128.29 L181.0,129.11 L181.5,130.16 L182.0,131.22 L182.3,132.02 L182.6,132.56 L183.0,132.83 L183.3,133.70 L183.6,134.84 L184.0,135.64 L184.4,136.34 L184.7,137.21 L185.1,138.07 L185.6,138.68 L186.0,139.17 L186.8,139.89 L187.6,140.42 L188.5,140.64 L189.5,140.68 L190.4,140.66 L191.2,140.64 L192.0,140.87 L192.8,141.40 L193.5,141.95 L194.1,142.51 L194.7,143.07 L195.4,143.61 L196.0,144.05 L196.7,144.54 L197.4,145.08 L198.1,145.74 L198.9,146.25 L200.0,146.41 L200.6,146.40 L201.4,146.34 L202.2,146.25 L203.0,146.18 L203.9,146.11 L204.8,146.12 L205.6,146.07 L206.5,145.96 L207.3,145.74 L208.0,145.53 L209.0,145.56 L209.9,145.56 L210.7,145.59 L211.5,145.81 L212.3,145.89 L213.2,145.71 L214.0,145.51 L214.9,145.51 L215.7,145.63 L216.6,145.67 L217.5,145.59 L218.4,145.36 L219.2,144.98 L220.0,144.75 L220.9,144.79 L221.7,144.93 L222.6,145.01 L223.4,145.01 L224.2,145.12 L225.0,144.53 L225.5,143.51 L225.9,142.75 L226.4,142.10 L226.9,141.44 L227.4,140.74 L227.9,139.90 L228.3,139.16 L228.8,138.37 L229.2,137.53 L229.6,136.67 L230.0,135.71 L230.3,134.92 L230.6,134.34 L230.8,133.82 L231.0,132.99 L231.2,132.12 L231.4,131.42 L231.6,130.75 L231.8,129.92 L232.0,129.12 L232.2,128.50 L232.5,127.88 L232.7,127.18 L233.0,126.28 L233.3,125.26 L233.7,124.31 L234.1,123.32 L234.5,122.34 L234.9,121.56 L235.3,120.66 L235.8,119.51 L236.2,118.72 L236.6,118.23 L236.9,117.57 L237.3,116.94 L237.6,116.53 L238.1,116.50 L238.5,117.28 L238.9,118.37 L239.2,119.29 L239.6,120.46 L240.0,122.02 L240.2,122.68 L240.4,123.40 L240.6,124.15 L240.8,124.82 L241.0,125.58 L241.2,126.50 L241.4,127.43 L241.6,128.20 L241.8,129.02 L242.0,130.09 L242.2,131.25 L242.4,132.21 L242.6,132.80 L242.8,133.27 L243.0,133.98 L243.3,134.94 L243.6,135.77 L243.9,136.70 L244.2,137.63 L244.4,138.45 L244.7,139.14 L245.0,140.08 L245.3,141.02 L245.7,141.35 L246.0,141.80 L246.5,142.86 L246.9,143.58 L247.3,144.05 L247.8,144.69 L248.4,145.22 L249.1,145.56 L250.0,145.92 L250.6,146.13 L251.3,146.40 L252.1,146.61 L252.9,146.63 L253.7,146.41 L254.6,146.16 L255.5,146.18 L256.4,146.32 L257.4,146.35 L258.3,146.23 L259.1,146.12 L260.0,146.23 L260.8,146.30 L261.6,146.09 L262.5,145.97 L263.3,146.09 L264.1,146.21 L264.9,146.13 L265.7,146.00 L266.5,146.14 L267.4,146.43 L268.2,146.45 L269.1,146.19 L270.0,146.10 L270.8,146.27 L271.5,146.47 L272.4,146.75 L273.2,146.80 L274.1,146.69 L274.9,146.85 L275.8,147.10 L276.7,147.27 L277.5,147.40 L278.4,147.58 L279.2,147.62 L280.0,147.47 L280.7,147.60 L281.4,147.94 L282.0,147.95 L283.2,147.91 L284.2,147.71 L285.0,147.22 L285.8,146.78 L286.5,146.38 L287.2,146.19 L288.0,146.08 L288.9,145.73 L289.8,145.31 L290.6,144.92 L291.4,144.38 L292.2,143.91 L293.0,143.90 L293.9,144.30 L294.7,144.91 L295.5,145.66 L296.3,146.40 L297.0,146.63 L297.8,146.22 L298.5,145.72 L299.2,145.35 L300.0,145.12 L300.7,145.23 L301.4,145.86 L302.2,146.62 L303.1,146.98 L304.0,147.36 L304.8,147.77 L305.6,148.11 L306.4,148.46 L307.3,148.79 L308.2,148.94 L309.1,148.67 L310.0,148.61 L310.9,149.11 L311.8,149.52 L312.7,149.71 L313.6,149.39 L314.5,148.86 L315.3,148.85 L316.0,148.89 L317.1,148.55 L318.0,148.05 L318.8,147.90 L319.6,148.31 L320.4,148.72 L321.1,149.05 L322.0,149.39 L323.0,149.64 L323.7,149.90 L324.6,150.10 L325.4,150.40 L326.4,150.89 L327.3,151.09 L328.2,151.34 L329.0,151.40 L329.9,151.03 L330.8,150.59 L331.6,150.24 L332.4,150.18 L333.2,150.04 L334.0,149.51 L334.7,149.01 L335.4,148.61 L336.1,147.99 L336.7,147.33 L337.4,146.87 L337.9,146.41 L338.4,145.91 L339.4,146.26 L340.0,147.61 L340.6,148.37 L341.2,149.12 L341.6,149.83" fill="none" stroke="#2626BC" stroke-width="1.2" stroke-linejoin="round" stroke-linecap="round"/><path d="M28.0,146.25 L28.4,146.53 L28.9,146.95 L29.6,147.34 L30.3,148.00 L31.0,148.84 L31.8,149.61 L32.6,150.12 L33.3,150.62 L34.0,151.31 L34.7,151.70 L35.3,151.97 L36.0,152.74 L36.7,153.79 L37.4,154.56 L38.0,155.04 L38.7,155.35 L39.4,155.80 L40.0,156.24 L40.8,156.21 L41.6,155.93 L42.4,155.56 L43.2,155.16 L43.9,154.95 L44.7,154.78 L45.4,154.35 L46.2,153.96 L46.9,153.96 L47.7,154.13 L48.4,154.61 L49.2,155.26 L50.0,155.67 L50.6,156.29 L51.2,157.13 L51.9,157.64 L52.6,158.30 L53.3,159.16 L53.9,159.79 L54.6,160.23 L55.3,160.70 L56.0,161.21 L56.7,161.83 L57.5,162.26 L58.2,162.48 L58.9,162.69 L59.6,162.95 L60.4,163.34 L61.2,163.70 L62.0,164.15 L62.7,164.56 L63.5,164.53 L64.3,164.37 L65.1,164.26 L65.9,164.30 L66.8,164.49 L67.6,164.71 L68.4,164.94 L69.2,164.92 L70.0,164.82 L70.9,165.08 L71.8,165.61 L72.6,165.86 L73.4,165.67 L74.3,165.68 L75.1,165.96 L76.0,166.05 L77.0,165.97 L77.7,165.84 L78.5,165.51 L79.3,165.28 L80.1,165.41 L80.9,165.43 L81.7,165.10 L82.6,164.68 L83.4,164.48 L84.3,164.58 L85.1,164.63 L86.0,164.50 L86.8,164.42 L87.7,164.45 L88.6,164.43 L89.5,164.42 L90.4,164.67 L91.3,164.95 L92.2,165.03 L93.1,165.18 L93.9,165.48 L94.7,165.61 L95.4,165.57 L96.0,165.47 L97.2,165.32 L97.9,165.21 L98.5,165.12 L99.2,165.05 L100.0,164.84 L100.8,164.41 L101.6,164.14 L102.4,164.25 L103.3,164.13 L104.2,163.73 L105.1,163.43 L106.0,163.11 L106.9,162.63 L107.7,162.21 L108.6,161.90 L109.4,161.46 L110.3,161.09 L111.1,161.06 L112.0,160.99 L112.9,160.99 L113.7,161.36 L114.6,161.83 L115.4,162.24 L116.3,162.62 L117.1,163.04 L118.0,163.14 L118.8,162.77 L119.5,162.61 L120.2,162.62 L121.0,162.50 L121.8,162.19 L122.5,161.58 L123.2,160.93 L124.0,160.26 L124.4,159.80 L124.9,159.12 L125.3,158.33 L125.7,157.68 L126.2,157.20 L126.6,156.69 L127.0,156.08 L127.5,155.38 L127.9,154.62 L128.3,153.69 L128.8,152.66 L129.2,151.89 L129.6,151.15 L130.0,150.24 L130.2,149.59 L130.5,148.86 L130.7,147.99 L131.0,146.73 L131.2,145.66 L131.4,145.03 L131.7,144.22 L131.9,143.04 L132.2,141.97 L132.4,141.04 L132.7,140.03 L132.9,139.21 L133.1,138.36 L133.4,137.25 L133.6,136.41 L133.8,135.71 L134.0,134.72 L134.2,133.88 L134.4,133.15 L134.6,132.53 L134.8,132.01 L135.0,131.26 L135.2,130.76 L135.4,130.73 L135.7,130.89 L135.9,131.26 L136.2,131.56 L136.4,132.00 L136.6,132.54 L136.8,133.28 L137.0,134.40 L137.1,135.51 L137.3,136.58 L137.5,137.68 L137.7,138.89 L137.9,140.00 L138.1,140.98 L138.4,141.98 L138.6,142.82 L138.8,143.58 L139.1,144.27 L139.3,145.17 L139.6,146.26 L139.8,147.10 L140.1,147.80 L140.4,148.78 L140.6,150.08 L140.9,151.23 L141.2,151.79 L141.5,152.26 L141.7,153.06 L142.0,154.05 L142.2,154.98 L142.5,155.60 L142.8,155.95 L143.0,156.17 L143.5,156.27 L143.9,156.02 L144.4,155.46 L144.8,154.45 L145.3,153.46 L145.7,152.78 L146.1,151.74 L146.6,150.53 L147.0,149.96 L147.6,149.34 L148.2,148.46 L148.8,147.76 L149.4,147.12 L149.9,146.45 L150.5,145.99 L151.0,145.77 L151.5,145.69 L152.0,146.21 L152.5,147.32 L153.0,148.35 L153.5,149.26 L154.0,150.03 L154.4,150.74 L154.8,151.69 L155.2,152.37 L155.6,153.29 L156.0,154.49 L156.4,155.39 L156.8,155.92 L157.2,156.48 L157.6,157.09 L158.0,157.26 L158.4,156.84 L158.8,156.08 L159.2,155.34 L159.6,154.63 L160.0,153.72 L160.3,152.72 L160.7,151.79 L161.0,150.96 L161.5,150.00 L162.0,149.09 L162.5,148.29 L163.0,147.75 L163.5,147.67 L164.0,148.04 L164.6,148.50 L165.1,149.18 L165.8,150.29 L166.5,151.55 L167.0,152.17 L167.5,152.69 L168.1,153.45 L168.7,154.50 L169.3,155.46 L169.9,156.16 L170.5,156.75 L171.0,157.36 L171.5,157.73 L172.0,157.57 L172.4,156.85 L172.8,155.95 L173.1,155.20 L173.5,154.49 L173.9,153.68 L174.2,152.58 L174.6,151.57 L175.0,150.86 L175.6,150.08 L176.1,149.43 L176.7,148.93 L177.3,148.38 L177.9,147.65 L178.5,147.11 L179.0,147.09 L179.6,147.23 L180.2,147.44 L180.8,147.94 L181.4,148.83 L182.0,149.95 L182.4,150.44 L182.7,151.03 L183.1,152.03 L183.4,153.03 L183.8,153.82 L184.2,154.58 L184.6,155.39 L185.1,156.07 L185.5,156.47 L186.0,156.74 L186.8,156.96 L187.7,157.09 L188.6,157.58 L189.5,157.85 L190.4,157.84 L191.3,158.04 L192.0,158.44 L192.9,158.90 L193.6,159.03 L194.2,159.26 L195.0,159.74 L195.6,160.11 L196.2,160.55 L196.8,161.22 L197.5,162.15 L198.3,162.98 L199.1,163.59 L200.0,163.74 L200.7,163.61 L201.4,163.80 L202.2,164.13 L203.1,164.26 L203.9,164.02 L204.8,163.71 L205.7,163.72 L206.5,163.95 L207.3,164.25 L208.0,164.27 L209.0,163.94 L209.9,163.82 L210.7,163.84 L211.5,163.86 L212.3,163.90 L213.2,163.79 L214.0,163.62 L214.9,163.45 L215.7,163.26 L216.6,162.94 L217.5,162.41 L218.4,162.01 L219.2,161.75 L220.0,161.61 L220.9,161.93 L221.7,162.45 L222.6,162.85 L223.4,163.25 L224.2,163.38 L225.0,163.03 L225.5,162.54 L226.0,161.96 L226.6,161.41 L227.1,160.91 L227.6,160.24 L228.1,159.33 L228.6,158.50 L229.1,157.64 L229.6,156.67 L230.0,155.92 L230.3,155.25 L230.6,154.48 L230.8,154.01 L231.1,153.56 L231.3,152.89 L231.5,151.91 L231.8,150.86 L232.0,150.28 L232.2,149.73 L232.4,148.74 L232.6,147.71 L232.8,146.87 L233.0,145.97 L233.2,145.16 L233.4,144.56 L233.6,143.88 L233.7,143.10 L233.9,142.42 L234.1,141.60 L234.3,140.57 L234.4,139.48 L234.6,138.45 L234.8,137.70 L235.0,136.77 L235.1,135.65 L235.3,135.00 L235.4,134.45 L235.6,133.78 L235.8,132.80 L236.1,131.96 L236.3,131.01 L236.5,129.79 L236.7,128.82 L237.0,128.36 L237.2,127.97 L237.4,127.43 L237.6,127.18 L237.9,127.25 L238.3,127.51 L238.6,128.23 L238.9,129.29 L239.3,130.56 L239.6,132.14 L239.7,132.74 L239.8,133.11 L239.9,133.55 L240.1,134.44 L240.2,135.60 L240.3,136.67 L240.4,137.37 L240.5,137.99 L240.6,138.97 L240.7,139.95 L240.9,140.86 L241.0,142.08 L241.1,143.21 L241.2,143.72 L241.3,144.24 L241.5,145.30 L241.6,146.42 L241.8,147.37 L242.0,148.04 L242.1,148.84 L242.3,149.80 L242.5,150.74 L242.7,151.55 L242.9,152.28 L243.1,153.20 L243.3,154.01 L243.5,154.39 L243.7,154.95 L244.0,155.89 L244.4,156.90 L244.8,157.87 L245.2,158.79 L245.7,159.37 L246.1,159.80 L246.6,160.21 L247.1,160.67 L247.5,161.30 L248.0,161.80 L248.7,162.35 L249.3,162.80 L250.0,163.21 L250.8,163.55 L252.0,163.72 L252.6,163.76 L253.3,163.58 L254.1,163.36 L254.9,163.51 L255.7,163.51 L256.6,163.22 L257.5,163.22 L258.4,163.35 L259.4,163.19 L260.3,163.04 L261.1,163.08 L262.0,163.10 L262.8,163.21 L263.7,163.33 L264.5,163.28 L265.3,163.18 L266.2,163.29 L267.0,163.52 L267.8,163.60 L268.7,163.63 L269.5,163.65 L270.3,163.75 L271.2,164.01 L272.0,164.07 L272.8,163.80 L273.7,163.70 L274.6,163.87 L275.5,164.01 L276.4,164.16 L277.2,164.46 L278.1,164.66 L279.0,164.46 L279.8,164.15 L280.6,164.18 L281.3,164.36 L282.0,164.46 L283.1,164.39 L284.0,164.16 L284.9,163.86 L285.7,163.69 L286.5,163.65 L287.2,163.48 L288.0,163.28 L288.9,162.75 L289.8,162.12 L290.6,161.97 L291.4,161.71 L292.2,161.24 L293.0,161.04 L293.9,161.22 L294.7,161.83 L295.5,162.55 L296.3,163.11 L297.0,163.43 L297.8,163.32 L298.5,162.81 L299.2,162.32 L300.0,162.21 L300.7,162.49 L301.4,163.04 L302.2,163.54 L303.1,163.81 L304.0,164.02 L304.8,164.30 L305.6,164.53 L306.4,164.57 L307.3,164.64 L308.2,164.84 L309.1,165.05 L310.0,164.99 L310.9,164.86 L311.8,164.82 L312.7,164.82 L313.6,165.03 L314.5,165.24 L315.3,165.15 L316.0,165.10 L317.1,165.05 L318.0,164.63 L318.8,164.27 L319.6,164.27 L320.4,164.33 L321.1,164.66 L322.0,165.17 L323.0,165.50 L323.7,165.83 L324.6,166.29 L325.4,166.42 L326.4,166.53 L327.3,166.90 L328.2,167.14 L329.0,167.24 L329.9,167.15 L330.8,166.67 L331.6,166.13 L332.4,165.92 L333.2,165.72 L334.0,165.40 L334.8,165.13 L335.6,164.63 L336.3,164.05 L337.0,163.54 L337.7,163.09 L338.4,162.84 L339.2,162.99 L339.9,163.61 L340.6,164.31 L341.2,165.08 L341.6,165.74" fill="none" stroke="#3C82CC" stroke-width="1.2" stroke-linejoin="round" stroke-linecap="round"/><path d="M28.0,201.05 L28.6,201.11 L29.3,201.79 L30.2,202.35 L31.2,201.83 L32.2,201.70 L33.1,202.45 L34.0,203.08 L34.9,203.54 L35.7,203.87 L36.6,203.45 L37.4,203.41 L38.2,203.78 L39.0,203.29 L39.8,202.74 L40.6,202.63 L41.5,202.69 L42.3,202.33 L43.1,201.65 L44.0,201.36 L44.8,201.03 L45.6,200.57 L46.5,200.38 L47.3,200.45 L48.1,200.29 L48.9,199.69 L49.6,199.84 L50.3,200.54 L50.9,200.98 L51.4,201.49 L51.9,202.30 L52.4,203.13 L53.0,204.09 L53.4,204.91 L53.8,205.47 L54.2,206.03 L54.6,206.69 L55.0,207.23 L55.4,208.09 L55.8,209.23 L56.2,210.09 L56.6,210.46 L57.0,210.99 L57.6,211.90 L58.3,212.25 L58.9,212.84 L59.5,213.74 L60.2,214.46 L61.0,215.00 L61.7,215.39 L62.5,215.66 L63.3,215.77 L64.2,215.94 L65.1,216.08 L66.0,216.68 L67.0,217.37 L67.7,217.30 L68.5,216.75 L69.3,216.63 L70.2,216.95 L71.1,216.86 L71.9,217.03 L72.8,217.74 L73.6,218.08 L74.3,218.31 L75.0,218.84 L76.0,218.84 L76.9,217.85 L77.8,216.61 L78.5,216.44 L79.3,216.94 L80.0,216.71 L80.9,215.86 L81.7,214.87 L82.4,214.10 L83.2,214.01 L84.0,214.03 L84.8,213.73 L85.5,213.59 L86.2,214.16 L87.0,214.82 L88.0,215.18 L88.7,215.41 L89.6,215.28 L90.5,215.34 L91.4,215.87 L92.4,216.00 L93.3,215.66 L94.2,215.60 L95.0,215.74 L95.9,215.79 L96.8,216.06 L97.6,216.37 L98.3,216.34 L99.1,216.32 L100.0,216.15 L100.8,215.59 L101.6,215.33 L102.5,215.49 L103.4,215.36 L104.3,214.71 L105.1,214.40 L106.0,214.35 L106.9,214.16 L107.7,214.30 L108.6,214.21 L109.5,213.84 L110.4,213.64 L111.2,213.39 L112.0,212.85 L112.9,212.06 L113.8,212.07 L114.6,212.92 L115.4,213.33 L116.2,213.50 L117.0,213.70 L117.8,213.91 L118.6,214.21 L119.4,214.38 L120.2,214.34 L121.0,214.38 L121.7,214.14 L122.4,213.30 L123.1,213.19 L123.8,213.06 L124.5,212.22 L125.3,211.54 L126.0,211.36 L126.7,211.31 L127.4,210.57 L128.1,209.57 L128.8,208.83 L129.5,208.44 L130.3,208.17 L131.0,207.76 L131.6,207.35 L132.3,206.63 L132.9,205.76 L133.6,205.01 L134.3,204.30 L134.9,203.72 L135.5,203.64 L136.1,203.60 L136.6,203.20 L137.5,202.81 L138.3,203.42 L139.0,204.49 L139.6,204.79 L140.4,205.50 L141.1,206.64 L142.0,206.36 L142.3,205.25 L142.7,204.12 L143.1,204.06 L143.4,203.99 L143.8,202.79 L144.3,201.28 L144.7,200.32 L145.1,199.48 L145.6,198.79 L146.0,198.43 L146.5,197.88 L147.1,196.77 L147.7,195.31 L148.3,194.69 L148.9,194.46 L149.5,193.58 L150.0,192.80 L150.5,192.55 L151.0,192.03 L151.8,191.30 L152.4,191.62 L153.0,192.98 L153.6,195.28 L153.8,196.62 L154.1,197.10 L154.3,197.66 L154.5,198.40 L154.8,198.78 L155.0,199.56 L155.2,200.84 L155.5,201.88 L155.7,202.44 L155.9,203.15 L156.2,204.10 L156.4,205.01 L156.9,206.57 L157.4,206.95 L157.9,207.18 L158.5,208.45 L159.0,208.86 L159.6,208.17 L160.2,207.58 L160.8,206.96 L161.4,206.52 L162.0,205.77 L162.8,204.69 L163.6,204.50 L164.4,204.59 L165.0,205.02 L165.6,205.34 L166.2,205.63 L167.0,206.67 L167.7,207.33 L168.5,207.50 L169.3,208.40 L170.2,209.33 L171.0,208.90 L171.4,207.66 L171.8,206.44 L172.2,206.10 L172.6,205.41 L173.1,204.13 L173.5,203.74 L173.9,203.41 L174.3,202.72 L174.6,202.03 L175.0,201.26 L175.4,200.35 L175.8,199.86 L176.2,199.20 L176.6,197.96 L177.0,197.17 L177.3,196.47 L177.7,195.65 L178.0,194.93 L178.6,193.58 L179.2,192.62 L179.8,192.27 L180.4,192.05 L180.9,192.10 L181.4,192.92 L181.9,194.16 L182.5,195.18 L183.0,196.13 L183.3,196.87 L183.5,197.50 L183.8,197.96 L184.0,199.04 L184.3,200.34 L184.5,201.20 L184.8,202.07 L185.1,203.31 L185.4,204.28 L185.7,204.72 L186.0,205.27 L186.5,205.98 L187.1,206.22 L187.6,207.01 L188.2,207.82 L188.8,208.14 L189.4,208.81 L190.0,209.19 L190.8,209.53 L191.6,210.28 L192.4,210.66 L193.2,210.20 L194.0,209.83 L194.7,210.61 L195.4,211.75 L196.1,212.23 L196.9,212.01 L198.0,212.17 L198.6,212.42 L199.3,212.39 L200.1,213.09 L200.9,213.53 L201.8,213.52 L202.6,213.72 L203.5,213.39 L204.3,213.03 L205.2,213.37 L206.0,213.89 L206.8,213.76 L207.6,213.13 L208.5,212.94 L209.3,213.29 L210.1,214.08 L210.9,214.76 L211.7,214.95 L212.5,214.77 L213.3,214.10 L214.0,213.53 L215.0,213.30 L215.9,213.54 L216.8,213.71 L217.7,213.70 L218.5,213.86 L219.3,213.60 L220.0,213.07 L221.0,212.90 L221.8,212.96 L222.6,212.19 L223.3,211.24 L224.0,210.99 L224.7,210.28 L225.3,209.33 L225.8,209.22 L226.4,209.61 L227.0,209.29 L227.7,209.18 L228.3,210.32 L229.0,211.17 L229.9,211.18 L230.9,210.70 L231.8,210.47 L232.5,210.53 L233.2,209.80 L234.0,208.64 L234.5,208.34 L235.0,207.95 L235.6,207.15 L236.3,206.18 L236.9,205.19 L237.5,204.39 L238.0,204.02 L238.6,203.66 L239.1,203.04 L239.6,202.03 L240.1,201.10 L240.5,200.64 L241.0,200.10 L241.6,198.68 L242.1,197.05 L242.6,196.12 L243.1,195.84 L243.6,195.95 L243.9,196.01 L244.2,196.63 L244.5,198.28 L244.8,199.99 L245.0,201.40 L245.3,201.85 L245.6,201.88 L245.8,202.70 L246.0,203.96 L246.1,204.65 L246.3,205.70 L246.5,206.95 L246.7,207.49 L246.8,208.00 L247.0,208.55 L247.2,209.37 L247.4,210.53 L247.6,210.99 L248.2,211.75 L248.8,211.93 L250.0,212.40 L250.6,212.80 L251.2,213.06 L252.0,213.30 L252.8,213.56 L253.7,213.63 L254.5,213.42 L255.4,213.41 L256.3,213.59 L257.2,213.52 L258.0,213.76 L258.8,214.21 L259.6,213.87 L260.4,213.28 L261.2,213.47 L262.0,214.36 L262.8,214.81 L263.6,214.51 L264.4,214.33 L265.2,214.54 L266.0,214.82 L266.8,215.17 L267.6,215.35 L268.4,214.85 L269.2,214.52 L270.0,215.24 L270.8,215.51 L271.6,214.62 L272.4,214.37 L273.2,214.75 L274.0,214.79 L274.8,214.90 L275.6,214.58 L276.4,214.20 L277.2,214.66 L278.0,214.67 L278.8,213.61 L279.6,213.33 L280.4,213.99 L281.2,213.60 L282.0,213.22 L282.8,213.83 L283.6,214.16 L284.4,214.00 L285.2,214.06 L286.1,214.68 L286.9,214.94 L287.7,214.62 L288.5,214.63 L289.2,214.61 L290.0,214.65 L290.9,215.32 L291.9,214.87 L292.8,213.91 L293.8,214.35 L294.6,214.68 L295.5,214.75 L296.3,215.00 L297.0,214.40 L298.0,213.36 L298.9,212.99 L299.6,212.94 L300.3,212.48 L301.0,212.08 L301.8,212.37 L302.4,213.07 L303.1,214.27 L304.0,216.07 L304.7,216.97 L305.5,216.25 L306.4,215.85 L307.3,216.48 L308.3,216.74 L309.2,216.29 L310.0,215.53 L310.9,215.81 L311.8,216.58 L312.6,216.58 L313.4,216.48 L314.2,216.34 L315.0,216.29 L315.9,216.46 L316.7,216.38 L317.4,215.89 L318.2,215.50 L319.0,215.85 L319.8,215.77 L320.6,215.33 L321.3,216.23 L322.1,217.25 L323.0,217.41 L323.8,217.51 L324.6,217.56 L325.4,217.28 L326.3,217.12 L327.2,217.03 L328.0,217.04 L328.9,217.33 L329.7,217.53 L330.6,217.71 L331.5,217.92 L332.3,218.10 L333.0,217.90 L333.9,217.21 L334.6,216.67 L335.3,216.28 L336.0,216.16 L336.8,215.89 L337.5,215.27 L338.3,214.84 L339.0,214.38 L339.7,214.46 L340.5,215.44 L341.1,216.49 L341.6,216.87" fill="none" stroke="#FF8A1E" stroke-width="1.2" stroke-linejoin="round" stroke-linecap="round"/><path d="M28.0,225.10 L28.6,224.98 L29.3,225.12 L30.2,225.75 L31.2,226.14 L32.2,226.04 L33.1,226.36 L34.0,226.89 L34.9,227.15 L35.7,227.77 L36.6,228.20 L37.4,227.74 L38.2,227.66 L39.0,228.30 L39.6,228.44 L40.2,227.64 L40.9,226.91 L41.5,226.84 L42.1,226.50 L42.8,225.20 L43.4,223.91 L44.0,223.30 L44.6,223.13 L45.3,222.74 L46.0,221.52 L46.7,220.75 L47.3,220.92 L48.0,220.72 L48.5,219.96 L49.0,219.73 L49.7,220.29 L50.1,220.73 L50.5,220.98 L51.0,221.86 L51.2,222.30 L51.4,223.35 L51.6,223.99 L51.8,224.45 L52.0,225.95 L52.2,226.95 L52.4,226.93 L52.7,227.32 L52.9,228.07 L53.1,229.26 L53.3,230.74 L53.6,231.79 L53.8,232.52 L54.0,233.11 L54.2,233.84 L54.5,234.88 L54.7,235.95 L54.9,236.86 L55.1,237.39 L55.3,237.84 L55.5,238.96 L55.8,240.28 L56.0,240.87 L56.2,241.07 L56.5,241.87 L56.7,242.58 L57.0,242.79 L57.4,243.68 L57.9,244.69 L58.3,245.49 L58.8,246.15 L59.2,246.42 L59.8,246.91 L60.3,247.84 L61.0,248.54 L61.7,248.90 L62.4,249.32 L63.1,250.00 L64.0,250.28 L64.8,250.06 L65.6,250.04 L66.5,250.46 L67.2,250.58 L68.0,250.79 L68.9,251.74 L69.8,251.97 L70.7,251.99 L71.6,252.81 L72.4,253.86 L73.2,254.29 L74.0,253.76 L74.9,253.20 L75.7,253.22 L76.6,252.80 L77.4,251.99 L78.2,252.10 L79.0,251.78 L79.7,250.49 L80.5,249.73 L81.2,248.90 L81.9,248.00 L82.6,247.86 L83.3,247.61 L84.0,247.45 L84.8,247.89 L85.5,248.26 L86.2,248.63 L87.0,249.27 L88.0,250.02 L88.7,250.51 L89.4,250.90 L90.2,251.31 L91.0,251.31 L91.9,251.34 L92.7,251.71 L93.5,251.90 L94.3,252.20 L95.0,252.29 L95.9,252.55 L96.8,252.96 L97.6,252.45 L98.3,251.94 L99.1,251.67 L100.0,251.09 L100.6,250.52 L101.3,250.17 L101.9,249.96 L102.6,248.85 L103.3,248.03 L103.9,248.40 L104.6,248.25 L105.3,247.64 L106.0,247.37 L106.8,247.09 L107.6,245.98 L108.5,244.95 L109.3,244.99 L110.2,244.46 L111.0,243.78 L111.7,243.93 L112.4,243.98 L113.2,244.02 L113.8,244.40 L114.4,244.84 L114.9,245.58 L115.4,246.83 L116.0,247.56 L116.9,247.69 L117.8,248.03 L118.6,248.19 L119.6,247.60 L120.1,247.52 L120.6,247.89 L121.2,247.69 L121.7,246.60 L122.3,245.33 L122.8,244.72 L123.4,244.15 L124.0,242.92 L124.5,242.18 L125.0,242.26 L125.5,241.64 L126.0,240.22 L126.5,239.35 L127.0,238.74 L127.5,237.95 L128.0,236.98 L128.5,236.28 L129.0,235.78 L129.5,234.76 L130.0,233.75 L130.5,233.39 L130.9,232.96 L131.4,231.84 L131.9,231.11 L132.4,231.17 L132.8,231.08 L133.2,229.86 L133.6,228.36 L134.2,227.54 L134.7,227.27 L135.2,226.75 L135.7,225.60 L136.1,224.47 L136.6,224.43 L137.2,224.83 L137.8,225.38 L138.4,226.59 L139.0,227.78 L139.6,228.06 L140.2,228.67 L140.7,230.20 L141.3,231.19 L142.0,230.37 L142.2,230.27 L142.3,230.41 L142.5,230.04 L142.7,229.08 L142.9,228.20 L143.1,227.51 L143.2,226.73 L143.4,225.79 L143.6,225.11 L143.9,224.30 L144.1,223.42 L144.3,222.44 L144.5,220.92 L144.7,219.86 L144.9,219.06 L145.1,217.76 L145.3,216.81 L145.6,216.43 L145.8,215.72 L146.0,214.60 L146.2,213.53 L146.4,212.68 L146.6,211.73 L146.9,210.51 L147.1,209.58 L147.4,209.23 L147.6,208.61 L147.9,207.54 L148.2,206.59 L148.4,205.57 L148.7,204.36 L148.9,203.42 L149.2,202.85 L149.4,202.20 L149.7,201.54 L149.9,201.25 L150.2,200.85 L150.4,199.73 L150.6,198.71 L150.8,198.61 L151.0,198.51 L151.5,197.57 L151.9,197.18 L152.2,197.21 L152.6,197.75 L152.9,199.07 L153.2,201.09 L153.6,203.66 L153.7,204.48 L153.8,205.17 L153.9,205.65 L154.0,205.90 L154.1,206.47 L154.2,207.07 L154.3,207.71 L154.4,208.85 L154.5,209.98 L154.6,210.63 L154.7,211.21 L154.8,211.84 L154.9,212.53 L155.1,213.32 L155.2,214.29 L155.3,215.60 L155.4,217.05 L155.5,218.01 L155.6,218.44 L155.7,219.27 L155.8,220.20 L155.9,220.64 L156.0,221.75 L156.1,222.98 L156.2,223.52 L156.3,224.69 L156.4,225.93 L156.6,226.68 L156.7,227.25 L156.9,228.10 L157.1,228.89 L157.2,229.85 L157.4,230.99 L157.5,231.68 L157.7,232.70 L157.8,234.03 L158.0,234.57 L158.2,235.13 L158.3,236.26 L158.5,237.13 L158.7,237.33 L158.8,237.21 L159.0,237.50 L159.5,237.99 L160.0,237.62 L160.5,236.73 L161.0,235.60 L161.5,234.48 L162.0,233.00 L162.3,232.10 L162.6,231.63 L162.9,230.68 L163.2,229.84 L163.5,229.09 L163.8,227.97 L164.1,227.07 L164.4,226.77 L164.7,227.11 L165.1,227.66 L165.4,228.44 L165.8,229.53 L166.1,230.07 L166.5,230.69 L167.0,231.51 L167.3,231.61 L167.6,232.72 L167.9,233.69 L168.2,234.18 L168.6,236.14 L168.9,238.03 L169.3,238.60 L169.6,239.31 L170.0,240.25 L170.3,241.16 L170.7,241.71 L171.0,241.43 L171.3,241.51 L171.7,242.02 L172.2,241.88 L172.6,241.59 L173.1,241.39 L173.5,240.33 L173.9,238.56 L174.3,237.70 L174.7,237.21 L175.0,235.55 L175.1,234.59 L175.2,234.19 L175.3,233.30 L175.4,231.70 L175.5,231.08 L175.5,231.00 L175.6,230.24 L175.7,229.26 L175.7,228.51 L175.8,227.90 L175.9,227.09 L175.9,226.30 L176.0,225.11 L176.0,223.61 L176.1,222.63 L176.2,221.80 L176.2,221.14 L176.3,220.67 L176.4,219.87 L176.4,218.78 L176.5,217.66 L176.6,216.42 L176.6,215.23 L176.7,214.19 L176.8,213.78 L176.9,213.84 L177.0,213.15 L177.2,211.56 L177.4,210.47 L177.6,209.64 L177.8,208.72 L178.0,207.84 L178.2,207.04 L178.4,206.27 L178.7,205.47 L178.9,204.34 L179.1,203.32 L179.3,202.66 L179.6,201.96 L179.8,201.58 L180.0,201.12 L180.2,200.32 L180.4,200.21 L180.7,200.61 L180.9,200.89 L181.2,201.08 L181.4,201.60 L181.7,202.56 L181.9,203.55 L182.1,204.80 L182.4,206.20 L182.6,207.20 L182.8,208.18 L183.0,209.40 L183.1,209.96 L183.2,210.86 L183.3,211.93 L183.4,212.28 L183.5,212.57 L183.6,213.38 L183.7,214.51 L183.8,215.28 L183.9,215.60 L184.0,216.21 L184.1,217.27 L184.2,218.55 L184.2,219.67 L184.3,220.28 L184.4,221.13 L184.5,222.77 L184.7,223.88 L184.8,224.10 L184.9,224.44 L185.0,225.11 L185.2,226.11 L185.4,227.27 L185.6,228.39 L185.8,228.98 L186.0,229.95 L186.2,231.23 L186.4,231.94 L186.6,232.37 L186.8,233.11 L187.0,234.42 L187.3,235.30 L187.5,235.34 L187.8,235.68 L188.0,236.68 L188.6,237.75 L189.2,237.94 L189.9,238.32 L190.6,238.58 L191.3,238.80 L192.0,239.56 L192.5,240.36 L192.9,241.37 L193.4,241.80 L193.9,241.65 L194.4,242.20 L195.0,243.25 L195.5,243.77 L196.0,244.04 L196.5,244.75 L197.0,245.70 L197.8,246.24 L198.6,246.21 L199.3,246.98 L200.1,247.85 L201.0,247.51 L202.0,247.06 L202.7,247.28 L203.4,247.73 L204.2,248.14 L205.0,248.19 L205.8,247.90 L206.7,247.53 L207.5,247.40 L208.4,247.98 L209.2,248.50 L210.0,248.35 L210.8,248.10 L211.6,247.83 L212.5,247.48 L213.3,247.38 L214.2,247.73 L215.0,248.04 L215.8,247.85 L216.6,247.81 L217.3,248.03 L218.0,248.20 L218.9,248.10 L219.7,247.67 L220.4,247.28 L221.1,247.02 L221.8,246.66 L222.4,245.92 L223.0,244.99 L223.7,244.33 L224.3,243.78 L224.9,242.85 L225.4,241.80 L225.9,240.65 L226.4,240.17 L227.1,240.98 L227.7,241.80 L228.4,242.45 L229.0,243.07 L229.9,243.32 L230.9,243.28 L231.8,242.44 L232.2,241.51 L232.6,241.42 L233.0,241.43 L233.5,240.46 L234.0,239.15 L234.3,238.58 L234.6,237.72 L235.0,237.02 L235.3,236.80 L235.7,236.23 L236.1,235.06 L236.5,234.02 L236.9,233.73 L237.3,233.23 L237.6,231.58 L238.0,230.35 L238.3,230.08 L238.5,229.39 L238.8,228.90 L239.0,228.39 L239.3,227.15 L239.6,226.23 L239.8,225.52 L240.1,224.62 L240.3,223.95 L240.5,222.90 L240.8,221.33 L241.0,220.25 L241.2,219.81 L241.4,219.42 L241.6,218.91 L242.0,217.45 L242.3,216.00 L242.5,214.72 L242.7,213.96 L243.0,213.85 L243.2,213.49 L243.4,213.08 L243.5,212.94 L243.7,212.84 L243.8,213.58 L243.9,214.74 L244.0,215.05 L244.2,215.67 L244.3,217.10 L244.4,218.30 L244.6,219.58 L244.7,220.96 L244.8,221.76 L245.0,222.75 L245.1,224.05 L245.2,224.99 L245.3,225.27 L245.4,225.94 L245.5,227.07 L245.6,227.95 L245.7,228.51 L245.8,229.06 L245.9,229.92 L246.0,231.07 L246.1,231.92 L246.2,232.94 L246.4,234.19 L246.5,235.23 L246.6,235.80 L246.7,235.86 L246.8,236.63 L246.9,238.09 L247.1,239.52 L247.2,240.43 L247.3,240.27 L247.6,240.93 L247.9,242.28 L248.1,243.72 L248.4,244.66 L248.7,244.82 L249.1,244.93 L249.5,245.81 L250.0,246.47 L250.7,246.62 L251.5,247.25 L252.4,247.79 L253.3,247.68 L254.3,247.82 L255.2,247.85 L256.0,247.50 L256.9,247.37 L257.7,247.59 L258.4,248.03 L259.2,247.54 L260.1,246.66 L261.0,246.66 L261.7,247.17 L262.4,247.76 L263.1,248.43 L263.9,248.93 L264.7,248.58 L265.5,248.54 L266.3,249.29 L267.2,249.66 L268.0,249.68 L268.8,249.46 L269.5,249.02 L270.3,248.92 L271.1,249.13 L271.9,248.94 L272.8,248.30 L273.6,247.76 L274.4,247.86 L275.2,248.19 L276.0,247.93 L276.8,247.72 L277.6,247.99 L278.5,247.84 L279.3,247.44 L280.1,247.37 L280.9,247.13 L281.7,247.24 L282.5,247.26 L283.3,247.00 L284.0,247.54 L285.0,247.78 L285.9,247.62 L286.8,248.08 L287.7,248.48 L288.5,248.48 L289.3,248.59 L290.0,248.89 L290.9,249.07 L291.7,248.80 L292.5,248.61 L293.2,248.59 L294.0,248.27 L294.8,248.11 L295.6,247.82 L296.5,247.25 L297.3,246.75 L298.0,245.94 L298.8,245.54 L299.6,245.44 L300.3,244.74 L301.0,244.34 L301.5,244.40 L302.0,245.21 L302.5,246.58 L303.0,247.44 L303.6,248.46 L304.2,249.31 L304.8,249.48 L305.4,249.96 L306.1,250.63 L307.0,250.88 L307.7,251.54 L308.6,252.32 L309.5,252.11 L310.5,251.94 L311.4,251.96 L312.3,252.11 L313.0,252.33 L314.0,252.04 L314.9,251.66 L315.6,251.34 L316.4,250.83 L317.2,249.93 L317.9,248.87 L318.6,248.75 L319.4,249.38 L320.1,249.65 L320.7,250.35 L321.4,251.42 L322.2,251.82 L323.0,252.14 L323.8,252.37 L324.6,252.29 L325.4,252.64 L326.3,253.24 L327.2,253.59 L328.0,253.91 L328.9,254.23 L329.8,254.28 L330.7,253.68 L331.6,253.07 L332.4,253.33 L333.1,253.73 L333.7,253.41 L334.3,252.83 L334.9,251.93 L335.5,250.45 L336.0,249.43 L336.4,249.19 L336.8,249.28 L337.2,248.91 L337.5,247.51 L337.8,246.49 L338.1,246.21 L338.4,246.14 L339.0,246.61 L339.5,247.51 L340.0,248.06 L340.6,248.80 L341.2,249.74 L341.6,249.84" fill="none" stroke="#DE1F26" stroke-width="1.2" stroke-linejoin="round" stroke-linecap="round"/><path d="M28.0,242.71 L28.5,243.09 L29.2,243.36 L30.1,244.23 L31.0,244.67 L32.0,244.32 L33.0,244.57 L33.6,245.14 L34.3,245.89 L35.0,246.41 L35.7,246.59 L36.4,247.18 L37.1,247.98 L37.8,248.72 L38.5,249.58 L39.2,250.19 L39.8,249.65 L40.3,248.57 L40.8,248.38 L41.2,248.33 L41.7,247.28 L42.1,246.12 L42.5,245.48 L43.0,245.03 L43.4,244.62 L43.8,243.77 L44.2,242.80 L44.6,241.77 L45.0,240.47 L45.4,239.68 L45.8,238.67 L46.2,237.22 L46.5,236.56 L46.9,236.62 L47.3,236.16 L47.7,235.09 L48.0,234.23 L48.4,233.16 L48.7,232.09 L49.0,231.45 L49.3,230.92 L49.6,230.87 L50.1,231.11 L50.5,231.22 L50.9,231.53 L51.2,232.36 L51.5,233.83 L51.8,235.74 L51.9,236.35 L52.0,236.89 L52.2,237.58 L52.3,238.26 L52.4,238.97 L52.5,240.25 L52.7,241.53 L52.8,242.16 L52.9,242.97 L53.0,243.86 L53.2,244.39 L53.3,245.12 L53.4,246.16 L53.5,247.51 L53.6,248.68 L53.8,249.20 L53.9,249.32 L54.0,249.98 L54.1,251.18 L54.2,252.09 L54.4,253.20 L54.5,254.44 L54.6,255.53 L54.7,256.25 L54.8,256.62 L54.9,257.38 L55.0,258.51 L55.1,259.52 L55.2,260.06 L55.3,260.62 L55.5,261.95 L55.6,263.31 L55.7,264.33 L55.9,265.04 L56.0,265.20 L56.2,265.68 L56.4,266.52 L56.6,267.44 L56.8,268.12 L57.0,268.69 L57.2,269.71 L57.4,271.15 L57.7,272.03 L57.9,272.41 L58.2,273.31 L58.4,274.18 L58.7,274.92 L59.0,275.89 L59.5,276.83 L60.1,277.39 L60.7,277.51 L61.4,277.56 L62.0,278.15 L62.7,278.77 L63.4,279.17 L64.0,279.76 L64.7,280.24 L65.4,280.80 L66.1,281.94 L66.9,282.44 L67.6,282.30 L68.3,282.53 L69.0,282.96 L69.7,283.17 L70.4,283.91 L71.1,284.99 L71.9,285.15 L72.6,284.86 L73.3,284.56 L74.0,284.39 L74.7,284.61 L75.4,285.07 L76.2,285.22 L76.9,284.69 L77.6,283.72 L78.3,282.76 L79.0,282.50 L79.8,282.59 L80.6,282.00 L81.3,280.75 L82.1,279.95 L82.8,279.99 L83.6,279.89 L84.3,279.59 L85.0,279.84 L85.6,280.41 L86.3,281.05 L87.1,281.95 L88.0,282.56 L88.7,282.51 L89.4,282.46 L90.2,282.53 L91.0,283.01 L91.9,283.71 L92.7,284.08 L93.5,284.03 L94.3,283.95 L95.0,284.32 L95.9,284.38 L96.8,283.76 L97.6,284.00 L98.3,284.83 L99.1,284.50 L100.0,283.18 L100.7,282.67 L101.4,283.08 L102.2,282.77 L102.9,281.85 L103.7,281.29 L104.4,280.85 L105.2,280.50 L106.0,280.17 L106.7,279.47 L107.4,278.65 L108.2,277.96 L109.0,277.50 L109.7,276.92 L110.5,276.33 L111.2,276.50 L111.8,276.14 L112.4,275.23 L113.3,275.73 L114.0,276.84 L114.7,277.46 L115.3,278.11 L116.0,278.59 L116.7,279.10 L117.5,279.94 L118.2,280.85 L119.0,281.12 L119.8,280.67 L120.4,280.09 L120.9,279.25 L121.5,278.63 L122.1,278.04 L122.7,277.18 L123.3,276.55 L124.0,275.86 L124.3,275.40 L124.7,274.84 L125.1,274.39 L125.5,274.31 L125.8,274.15 L126.2,273.30 L126.6,272.01 L127.1,270.72 L127.5,269.63 L127.9,268.91 L128.3,268.63 L128.7,268.10 L129.2,266.88 L129.6,265.97 L130.0,265.54 L130.3,265.10 L130.6,264.35 L130.9,263.85 L131.2,263.21 L131.5,261.88 L131.9,260.76 L132.2,259.96 L132.5,258.82 L132.8,257.75 L133.2,256.70 L133.5,255.74 L133.8,255.15 L134.1,254.64 L134.4,253.76 L134.7,252.25 L135.0,251.14 L135.3,250.91 L135.6,250.72 L135.9,250.27 L136.1,249.78 L136.4,249.35 L136.6,248.81 L137.0,248.42 L137.4,248.84 L137.8,250.02 L138.0,251.19 L138.3,251.69 L138.5,252.34 L138.8,253.36 L139.0,254.31 L139.3,255.26 L139.6,256.52 L140.0,258.50 L140.4,260.05 L140.8,260.83 L141.2,261.71 L141.7,262.76 L142.1,263.48 L142.5,263.33 L143.0,262.95 L143.2,263.13 L143.4,262.95 L143.6,262.55 L143.7,261.42 L143.9,259.86 L144.1,259.08 L144.3,258.78 L144.5,258.16 L144.7,257.20 L144.9,256.23 L145.1,254.91 L145.3,253.60 L145.5,252.70 L145.7,251.73 L145.9,250.96 L146.1,250.53 L146.4,249.91 L146.6,249.13 L146.8,248.16 L147.0,246.89 L147.2,245.60 L147.5,244.57 L147.8,243.63 L148.1,242.81 L148.3,242.17 L148.6,241.35 L148.9,240.51 L149.2,239.56 L149.5,238.57 L149.8,237.55 L150.0,236.21 L150.3,235.54 L150.6,235.33 L150.9,234.54 L151.1,233.90 L151.4,233.82 L151.6,233.24 L151.8,232.45 L152.2,231.99 L152.5,232.24 L152.8,233.43 L153.0,234.33 L153.3,234.82 L153.5,235.56 L153.8,236.51 L154.0,238.11 L154.2,239.68 L154.5,240.73 L154.6,241.05 L154.7,241.29 L154.9,242.78 L155.0,244.66 L155.1,245.10 L155.2,245.56 L155.3,246.62 L155.4,248.05 L155.5,249.20 L155.6,249.33 L155.8,249.49 L155.9,250.51 L156.0,251.96 L156.1,253.02 L156.2,253.38 L156.3,254.39 L156.4,255.75 L156.5,256.16 L156.7,256.84 L156.8,258.13 L156.9,258.96 L157.0,259.03 L157.2,259.71 L157.4,261.25 L157.6,262.59 L157.8,263.09 L158.0,263.77 L158.2,265.16 L158.5,266.16 L158.7,266.51 L158.9,267.09 L159.1,267.79 L159.3,268.19 L159.5,268.79 L159.9,269.56 L160.2,269.00 L160.6,267.31 L160.9,265.95 L161.3,265.23 L161.6,264.54 L162.0,263.52 L162.2,262.43 L162.5,261.12 L162.7,259.86 L163.0,259.27 L163.2,258.62 L163.4,257.75 L163.7,257.18 L163.9,256.49 L164.2,255.88 L164.4,255.46 L164.7,255.46 L165.0,255.76 L165.3,256.43 L165.6,257.43 L165.9,258.21 L166.2,259.26 L166.6,260.24 L167.0,261.02 L167.3,262.18 L167.7,263.24 L168.1,264.41 L168.5,265.85 L168.9,266.40 L169.3,266.65 L169.8,267.47 L170.2,268.68 L170.7,269.40 L171.1,269.41 L171.5,269.19 L171.8,268.69 L172.1,268.12 L172.4,267.50 L172.7,267.09 L173.0,267.27 L173.3,267.14 L173.6,266.17 L173.9,264.96 L174.2,264.15 L174.5,263.72 L174.8,263.02 L175.1,261.82 L175.4,260.36 L175.7,258.92 L176.0,258.06 L176.2,257.83 L176.4,257.19 L176.6,256.21 L176.8,254.91 L177.0,253.84 L177.2,253.33 L177.4,252.37 L177.6,251.07 L177.8,250.08 L178.0,248.90 L178.2,247.41 L178.4,246.43 L178.6,245.70 L178.8,244.51 L178.9,243.76 L179.1,243.32 L179.3,242.81 L179.5,242.45 L179.7,241.65 L179.9,240.40 L180.1,239.54 L180.2,239.65 L180.4,239.99 L180.6,239.85 L180.9,239.65 L181.1,239.52 L181.3,239.88 L181.5,240.80 L181.8,241.76 L182.0,242.65 L182.2,243.44 L182.4,244.66 L182.6,245.66 L182.8,246.18 L183.0,247.22 L183.2,248.58 L183.4,250.11 L183.6,251.33 L183.8,251.99 L184.0,252.44 L184.1,253.36 L184.3,254.56 L184.5,255.09 L184.6,255.48 L184.8,256.53 L184.9,257.64 L185.1,258.80 L185.2,260.38 L185.4,261.10 L185.5,261.06 L185.7,262.21 L185.9,264.03 L186.0,264.60 L186.2,264.80 L186.4,265.74 L186.6,266.40 L186.8,267.01 L187.0,267.72 L187.6,268.49 L188.3,268.50 L189.0,268.53 L189.7,268.93 L190.4,268.95 L191.1,269.19 L191.8,269.81 L192.3,269.77 L192.9,270.32 L193.3,271.75 L193.8,272.56 L194.3,272.90 L194.8,273.67 L195.4,274.70 L196.0,275.19 L196.7,275.44 L197.3,275.94 L198.0,276.23 L198.8,276.47 L199.5,276.98 L200.3,277.29 L201.1,277.17 L202.0,277.26 L202.7,277.75 L203.5,278.02 L204.3,278.47 L205.1,278.66 L205.9,278.35 L206.7,278.63 L207.5,278.60 L208.4,278.07 L209.2,278.09 L210.0,278.47 L210.8,278.66 L211.6,278.48 L212.5,278.30 L213.3,278.40 L214.2,278.89 L215.0,279.00 L215.8,277.91 L216.6,277.32 L217.3,277.97 L218.0,278.31 L219.0,277.59 L219.9,276.81 L220.8,276.78 L221.6,276.66 L222.3,276.12 L223.0,275.51 L223.8,274.77 L224.5,273.86 L225.2,273.18 L225.8,272.71 L226.4,272.51 L227.1,272.83 L227.7,273.12 L228.4,273.42 L229.0,273.71 L229.9,273.83 L230.9,273.42 L231.8,273.12 L232.4,273.46 L232.8,272.89 L233.3,271.82 L234.0,270.53 L234.3,269.79 L234.6,268.98 L234.9,267.79 L235.2,266.78 L235.6,266.71 L235.9,266.49 L236.3,265.60 L236.7,264.89 L237.0,263.92 L237.4,262.23 L237.7,261.13 L238.0,260.85 L238.3,260.21 L238.7,259.29 L239.0,258.44 L239.3,257.75 L239.6,256.93 L239.9,255.86 L240.2,255.20 L240.5,254.89 L240.7,253.95 L241.0,252.17 L241.3,251.07 L241.6,250.86 L241.8,249.76 L242.1,248.57 L242.3,248.05 L242.5,247.72 L242.8,247.50 L243.0,247.33 L243.2,247.01 L243.3,247.21 L243.5,248.52 L243.6,249.39 L243.8,249.39 L243.9,250.17 L244.1,251.55 L244.2,252.35 L244.4,252.61 L244.5,253.85 L244.7,255.39 L244.8,255.99 L245.0,256.74 L245.1,257.53 L245.2,258.32 L245.3,259.20 L245.4,260.14 L245.6,261.15 L245.7,261.79 L245.8,262.45 L245.9,263.94 L246.0,265.43 L246.1,265.84 L246.2,266.02 L246.3,266.86 L246.5,268.28 L246.6,269.40 L246.7,269.75 L246.9,270.31 L247.0,271.21 L247.3,272.53 L247.6,273.68 L248.0,274.77 L248.3,275.36 L248.7,275.47 L249.3,275.73 L250.0,276.47 L250.6,276.65 L251.3,276.39 L252.0,276.82 L252.8,277.74 L253.7,278.00 L254.6,277.84 L255.4,278.16 L256.3,278.37 L257.2,278.35 L258.0,279.07 L258.8,280.00 L259.6,280.15 L260.4,280.20 L261.2,280.41 L262.0,280.16 L262.8,279.77 L263.6,279.90 L264.4,280.44 L265.2,281.00 L266.0,281.33 L266.8,281.33 L267.6,281.41 L268.3,281.50 L269.1,280.87 L269.9,280.11 L270.7,280.38 L271.5,280.58 L272.3,280.27 L273.1,280.56 L274.0,280.61 L274.8,280.28 L275.6,280.20 L276.5,279.97 L277.3,279.67 L278.2,279.32 L279.1,279.00 L280.0,279.03 L280.9,278.98 L281.7,278.87 L282.5,278.94 L283.3,278.95 L284.0,278.63 L285.1,278.49 L286.1,279.04 L287.0,279.37 L287.8,279.47 L288.5,279.65 L289.3,280.11 L290.0,280.53 L290.9,279.56 L291.8,278.83 L292.6,278.97 L293.3,278.81 L294.0,278.73 L295.1,278.90 L296.0,279.32 L297.0,279.15 L297.7,278.35 L298.4,277.40 L299.2,276.36 L299.9,275.97 L300.6,275.82 L301.1,275.89 L301.6,276.72 L302.1,277.52 L302.6,278.46 L303.1,279.47 L303.6,280.01 L304.2,280.74 L304.8,281.37 L305.4,281.83 L306.1,281.92 L307.0,281.96 L307.7,282.44 L308.6,283.01 L309.5,283.73 L310.5,284.10 L311.4,283.80 L312.3,283.70 L313.0,283.87 L314.0,283.74 L314.9,283.62 L315.6,283.58 L316.4,283.47 L317.2,283.07 L317.9,281.95 L318.6,280.98 L319.4,281.14 L320.1,281.67 L320.7,282.07 L321.4,282.56 L322.2,282.76 L323.0,282.84 L323.8,283.52 L324.6,284.35 L325.4,284.77 L326.3,284.81 L327.2,284.37 L328.0,284.60 L328.9,285.15 L329.8,285.12 L330.7,285.59 L331.6,286.29 L332.4,285.90 L333.1,284.88 L333.7,284.26 L334.3,283.59 L334.9,283.07 L335.5,282.48 L336.0,281.46 L336.6,280.65 L337.1,279.40 L337.6,278.18 L338.0,277.94 L338.4,277.79 L339.0,277.76 L339.5,278.76 L340.0,280.21 L340.9,281.17 L341.6,281.39" fill="none" stroke="#9A1D22" stroke-width="1.2" stroke-linejoin="round" stroke-linecap="round"/><path d="M28.0,274.21 L28.5,274.49 L29.1,274.34 L29.8,274.87 L30.6,275.60 L31.5,276.33 L32.4,277.33 L33.2,277.58 L34.0,277.80 L34.7,278.45 L35.4,278.78 L36.0,278.69 L36.7,278.70 L37.4,279.45 L38.1,280.57 L38.7,280.91 L39.4,280.48 L40.0,280.22 L40.6,280.23 L41.2,280.13 L41.8,279.71 L42.4,279.15 L42.9,278.51 L43.5,277.65 L44.0,276.67 L44.5,275.99 L45.0,275.69 L45.7,274.76 L46.4,273.97 L47.1,273.11 L47.7,272.07 L48.3,271.66 L48.8,271.44 L49.4,271.40 L50.0,272.00 L50.4,273.02 L51.0,274.21 L51.2,274.27 L51.4,274.86 L51.6,276.20 L51.8,276.94 L52.0,276.98 L52.2,277.59 L52.5,278.80 L52.7,280.13 L52.9,280.97 L53.1,281.54 L53.3,282.17 L53.6,282.60 L53.8,283.42 L54.0,284.45 L54.2,285.06 L54.5,286.12 L54.7,287.65 L54.9,288.29 L55.1,288.78 L55.3,290.21 L55.5,291.47 L55.8,291.92 L56.0,292.72 L56.2,293.68 L56.5,293.95 L56.7,294.39 L57.0,294.76 L57.5,295.14 L58.0,296.11 L58.6,297.43 L59.2,298.56 L59.8,299.23 L60.4,299.20 L61.0,299.24 L61.8,299.56 L62.5,300.02 L63.3,300.64 L64.1,300.99 L65.0,301.04 L66.0,301.26 L66.7,301.95 L67.5,302.42 L68.3,302.30 L69.1,302.49 L69.9,302.65 L70.7,302.93 L71.5,303.59 L72.3,303.63 L73.0,303.28 L73.9,303.39 L74.8,303.83 L75.6,304.02 L76.3,303.61 L77.1,302.95 L78.0,302.30 L78.7,301.69 L79.5,301.26 L80.3,301.04 L81.1,301.02 L81.9,300.72 L82.6,300.18 L83.3,299.85 L84.0,299.52 L84.9,299.44 L85.6,299.80 L86.3,300.60 L87.0,301.16 L88.0,301.03 L88.7,301.16 L89.6,301.47 L90.5,301.17 L91.4,300.76 L92.4,300.89 L93.3,301.49 L94.2,302.11 L95.0,302.33 L95.9,301.69 L96.8,301.17 L97.6,301.65 L98.3,302.11 L99.1,302.07 L100.0,301.91 L100.7,301.45 L101.4,300.94 L102.2,300.87 L102.9,300.36 L103.7,299.85 L104.4,300.35 L105.2,300.37 L106.0,299.30 L106.7,298.04 L107.4,297.61 L108.2,297.72 L109.0,297.06 L109.7,296.34 L110.5,295.84 L111.2,295.15 L111.8,294.87 L112.4,295.00 L113.3,295.49 L114.0,296.46 L114.7,297.19 L115.3,297.58 L116.0,298.07 L116.8,298.60 L117.5,298.84 L118.3,299.37 L119.1,300.16 L120.0,299.94 L120.6,299.40 L121.2,299.28 L121.8,299.37 L122.4,298.80 L123.0,297.43 L123.7,296.26 L124.3,295.57 L125.0,294.98 L125.4,294.49 L125.8,293.89 L126.2,293.28 L126.7,292.58 L127.1,291.62 L127.5,290.52 L128.0,289.83 L128.4,289.05 L128.8,287.98 L129.3,287.44 L129.7,287.03 L130.2,286.43 L130.6,285.95 L131.0,284.99 L131.5,283.86 L131.9,283.02 L132.4,282.05 L132.8,281.65 L133.3,281.20 L133.8,279.95 L134.2,278.89 L134.7,278.28 L135.1,277.95 L135.5,277.76 L135.9,277.13 L136.3,276.22 L136.6,275.98 L137.0,276.46 L137.4,277.26 L137.8,277.72 L138.1,277.91 L138.4,278.92 L138.7,280.66 L139.0,281.58 L139.3,281.47 L139.6,282.09 L140.1,283.62 L140.5,285.32 L141.0,287.08 L141.4,287.86 L141.9,288.27 L142.4,288.70 L143.0,288.06 L143.3,287.15 L143.5,287.02 L143.8,287.10 L144.1,286.60 L144.4,285.52 L144.6,283.78 L144.9,282.62 L145.2,282.23 L145.5,281.51 L145.8,280.69 L146.1,279.83 L146.4,278.50 L146.7,277.39 L147.0,277.24 L147.3,277.11 L147.6,275.92 L148.1,274.07 L148.6,273.51 L149.1,273.27 L149.6,272.30 L150.2,271.25 L150.6,270.63 L151.1,270.04 L151.6,269.25 L152.0,268.90 L152.4,269.20 L152.8,269.91 L153.1,270.17 L153.5,270.39 L153.8,271.51 L154.1,272.72 L154.4,273.69 L154.7,274.84 L155.0,275.80 L155.2,276.63 L155.5,277.72 L155.7,278.45 L155.9,279.16 L156.1,279.93 L156.4,280.94 L156.6,282.32 L156.8,283.18 L157.0,284.05 L157.2,285.23 L157.4,285.70 L157.6,285.88 L157.9,287.07 L158.2,288.73 L158.5,290.07 L158.8,290.36 L159.1,290.50 L159.6,290.71 L159.9,290.73 L160.3,290.06 L160.7,289.14 L161.1,288.28 L161.5,287.30 L162.0,286.73 L162.4,286.53 L162.8,286.15 L163.2,285.06 L163.5,283.61 L163.8,282.33 L165.0,281.14 L165.3,282.52 L165.6,283.44 L165.9,283.40 L166.3,284.11 L166.7,285.11 L167.1,285.82 L167.6,287.10 L168.0,288.09 L168.5,288.33 L168.9,289.14 L169.4,290.89 L169.9,292.34 L170.5,292.76 L171.0,292.80 L171.5,292.91 L172.0,293.26 L172.3,293.32 L172.7,292.93 L173.0,292.61 L173.3,292.39 L173.6,291.63 L174.0,290.25 L174.3,289.12 L174.6,288.19 L175.0,287.16 L175.3,286.17 L175.7,285.12 L176.0,283.82 L176.3,283.22 L176.6,282.81 L176.9,281.51 L177.3,280.01 L177.6,279.02 L177.9,278.37 L178.2,277.52 L178.6,276.69 L178.9,276.02 L179.2,275.64 L179.5,275.07 L179.8,273.60 L180.1,272.63 L180.4,272.70 L180.9,273.09 L181.3,273.72 L181.7,274.31 L182.1,275.18 L182.4,276.18 L182.8,276.91 L183.2,277.60 L183.6,278.28 L183.9,279.01 L184.1,280.35 L184.3,281.79 L184.6,282.78 L184.8,283.26 L185.1,283.91 L185.3,284.62 L185.6,285.24 L185.9,286.55 L186.1,288.09 L186.4,288.96 L186.7,289.14 L187.0,288.69 L187.7,289.06 L188.5,289.97 L189.2,290.69 L190.0,291.30 L190.8,291.99 L191.6,292.53 L192.3,292.56 L193.0,292.63 L193.7,293.58 L194.4,294.99 L195.2,295.59 L196.0,295.61 L196.7,295.76 L197.3,296.09 L198.0,296.62 L198.8,297.04 L199.5,297.07 L200.3,297.20 L201.1,297.84 L202.0,298.19 L202.7,297.91 L203.5,297.84 L204.3,298.23 L205.1,298.70 L205.9,298.67 L206.7,298.44 L207.5,298.59 L208.4,298.52 L209.2,298.22 L210.0,298.44 L210.8,298.75 L211.6,298.64 L212.5,298.77 L213.3,299.13 L214.2,298.73 L215.0,297.99 L215.8,298.02 L216.6,298.20 L217.3,298.16 L218.0,298.05 L218.9,297.68 L219.7,296.93 L220.4,296.25 L221.1,296.62 L221.7,296.69 L222.4,295.60 L223.0,294.79 L223.9,294.90 L224.6,295.25 L225.4,294.74 L226.2,294.26 L227.0,293.95 L227.8,293.60 L228.6,293.91 L229.5,294.10 L230.4,294.06 L231.1,293.90 L231.8,293.22 L232.4,292.68 L232.8,292.44 L233.1,291.77 L233.5,290.93 L234.0,290.34 L234.4,289.65 L234.9,288.64 L235.4,288.19 L235.9,287.85 L236.5,286.99 L237.0,285.70 L237.5,284.97 L238.0,284.86 L238.6,284.04 L239.1,283.40 L239.6,283.45 L240.1,283.05 L240.6,282.16 L241.0,281.20 L241.4,280.03 L241.7,278.99 L242.1,278.41 L242.4,277.98 L242.7,276.95 L243.0,276.51 L243.2,277.01 L243.5,277.16 L243.7,277.45 L244.0,278.03 L244.2,279.19 L244.5,280.79 L244.7,281.86 L245.0,282.64 L245.2,282.87 L245.3,283.30 L245.5,284.39 L245.7,285.94 L245.8,287.13 L246.0,288.11 L246.2,289.11 L246.4,290.23 L246.5,291.51 L246.7,292.04 L246.9,292.10 L247.1,292.77 L247.3,293.76 L247.4,294.51 L247.6,295.54 L248.1,297.51 L248.5,298.19 L249.0,297.94 L250.0,297.64 L250.6,297.82 L251.2,297.94 L252.0,297.75 L252.8,297.79 L253.7,297.99 L254.5,298.26 L255.4,298.58 L256.3,298.88 L257.2,299.14 L258.0,299.43 L258.8,299.09 L259.6,298.55 L260.4,299.02 L261.2,298.96 L262.0,298.34 L262.8,298.47 L263.6,298.75 L264.4,299.24 L265.2,299.63 L266.0,299.71 L266.8,299.79 L267.6,299.54 L268.3,299.07 L269.1,298.72 L269.9,298.85 L270.7,299.12 L271.5,299.47 L272.3,299.80 L273.1,299.31 L274.0,299.03 L274.8,299.11 L275.6,298.85 L276.5,298.97 L277.3,299.18 L278.2,298.72 L279.1,298.26 L280.0,297.95 L280.9,297.81 L281.7,298.00 L282.5,297.90 L283.3,297.87 L284.0,297.92 L285.1,297.74 L286.1,298.09 L287.0,298.84 L287.8,299.32 L288.5,298.78 L289.3,298.13 L290.0,298.35 L290.9,297.99 L291.8,297.50 L292.6,297.09 L293.3,296.67 L294.0,297.15 L294.8,297.98 L295.5,298.29 L296.2,298.39 L297.0,298.92 L297.7,299.06 L298.4,298.31 L299.2,297.44 L299.9,296.91 L300.6,296.66 L301.2,296.73 L301.8,297.18 L302.4,297.95 L303.0,298.52 L303.6,298.82 L304.4,299.28 L305.1,299.62 L306.0,299.92 L307.0,300.64 L307.7,301.73 L308.6,302.29 L309.5,301.77 L310.5,301.09 L311.4,301.47 L312.3,302.08 L313.0,301.54 L314.0,301.59 L314.9,302.44 L315.6,302.19 L316.4,301.76 L317.4,301.31 L318.4,300.18 L319.4,299.93 L320.1,300.56 L320.7,300.93 L321.4,301.42 L322.2,301.76 L323.0,301.75 L323.8,302.33 L324.6,303.02 L325.4,303.06 L326.3,303.05 L327.2,302.87 L328.0,302.75 L328.9,302.93 L329.8,303.12 L330.7,303.30 L331.6,303.47 L332.4,303.78 L333.2,303.43 L334.0,302.67 L334.7,302.47 L335.4,302.07 L336.0,301.30 L336.6,300.41 L337.1,299.71 L337.6,299.26 L338.0,298.30 L338.4,297.89 L339.2,298.57 L340.0,299.18 L340.9,299.53 L341.6,299.83" fill="none" stroke="#2626BC" stroke-width="1.2" stroke-linejoin="round" stroke-linecap="round"/><path d="M28.0,306.07 L28.4,306.62 L28.9,306.56 L29.6,306.57 L30.3,307.20 L31.0,308.00 L31.8,308.76 L32.6,309.50 L33.3,310.17 L34.0,310.56 L34.8,311.10 L35.5,311.94 L36.2,312.39 L37.0,312.55 L37.8,313.21 L38.5,313.83 L39.2,314.19 L40.0,314.19 L40.9,313.61 L41.8,313.87 L42.7,314.59 L43.6,313.99 L44.5,312.88 L45.3,312.38 L46.0,312.14 L47.1,312.25 L48.0,313.21 L49.0,314.63 L49.5,314.85 L50.1,314.84 L50.7,315.38 L51.3,315.63 L52.0,315.87 L52.6,316.56 L53.3,317.01 L54.0,317.54 L54.7,318.30 L55.4,318.51 L56.2,318.64 L56.9,319.22 L57.7,320.03 L58.5,320.62 L59.2,320.54 L60.0,320.40 L60.8,320.40 L61.7,320.69 L62.5,320.78 L63.3,320.41 L64.1,320.35 L65.0,320.13 L66.0,320.28 L66.7,321.03 L67.5,320.96 L68.3,320.49 L69.2,320.53 L70.0,320.86 L70.8,321.48 L71.7,321.96 L72.5,321.85 L73.3,321.75 L74.0,322.03 L75.0,322.11 L75.9,321.89 L76.8,321.82 L77.7,321.48 L78.5,320.84 L79.3,320.15 L80.0,319.41 L80.9,319.31 L81.6,319.62 L82.4,319.09 L83.1,317.99 L84.0,317.77 L84.8,318.50 L85.6,318.92 L86.5,319.08 L87.4,319.21 L88.3,319.07 L89.2,319.21 L90.0,319.92 L90.9,320.46 L91.7,320.54 L92.4,320.54 L93.2,320.34 L94.1,319.89 L95.0,319.48 L95.8,319.71 L96.6,320.27 L97.5,320.49 L98.4,320.80 L99.4,320.90 L100.3,320.69 L101.2,320.43 L102.0,320.07 L102.9,319.71 L103.8,319.31 L104.7,318.81 L105.6,318.55 L106.4,318.63 L107.2,318.71 L108.0,318.58 L108.8,317.84 L109.6,317.01 L110.4,316.60 L111.1,316.23 L111.7,315.57 L112.4,314.79 L113.3,314.76 L114.2,315.71 L115.1,317.14 L116.0,318.01 L116.7,318.55 L117.5,319.61 L118.2,319.87 L119.1,319.15 L120.0,318.79 L120.7,318.92 L121.4,318.52 L122.1,317.95 L122.9,317.78 L123.7,317.22 L124.5,316.46 L125.2,316.20 L126.0,315.68 L126.6,314.93 L127.2,314.66 L127.8,314.28 L128.5,313.47 L129.1,312.90 L129.7,312.49 L130.3,311.64 L130.9,310.82 L131.5,310.67 L132.0,310.46 L132.7,309.34 L133.3,307.98 L133.9,306.90 L134.5,306.16 L135.0,305.77 L135.6,305.29 L136.1,305.22 L136.6,305.88 L137.1,306.03 L137.7,305.65 L138.1,306.18 L138.6,307.93 L139.0,309.83 L139.5,310.38 L140.0,310.21 L140.6,310.83 L141.2,311.47 L141.7,312.25 L142.3,313.33 L143.0,314.12 L143.6,314.19 L144.0,313.57 L144.4,312.99 L144.9,312.54 L145.3,311.97 L145.8,311.05 L146.2,309.98 L146.7,308.91 L147.1,307.88 L147.6,307.09 L148.0,306.38 L148.7,305.60 L149.4,305.06 L150.1,304.27 L150.8,303.40 L151.4,303.07 L152.0,303.51 L152.5,304.48 L153.0,305.30 L153.5,305.64 L154.0,306.04 L154.5,306.92 L155.0,308.09 L155.4,308.85 L155.8,309.61 L156.3,310.81 L156.8,311.73 L157.2,311.94 L157.7,312.11 L158.2,312.70 L158.6,313.27 L159.0,313.31 L159.7,313.59 L160.3,313.06 L160.8,311.56 L161.4,310.98 L162.0,311.09 L162.8,310.72 L163.5,310.01 L164.2,309.59 L165.0,309.64 L165.7,310.37 L166.4,311.58 L167.2,312.05 L168.0,312.32 L168.7,313.12 L169.5,313.74 L170.4,314.11 L171.2,314.54 L172.0,314.50 L172.6,314.42 L173.1,314.19 L173.7,313.47 L174.3,312.88 L174.8,311.94 L175.4,311.15 L176.0,310.34 L176.5,309.01 L177.0,308.01 L177.5,307.04 L178.0,305.79 L178.5,305.09 L179.0,304.84 L179.5,304.13 L180.0,303.71 L180.4,304.43 L181.0,304.93 L181.5,304.93 L182.1,305.54 L182.6,306.70 L183.1,307.77 L183.6,308.34 L184.1,308.82 L184.5,309.75 L185.0,310.55 L185.4,311.47 L185.9,312.23 L186.4,312.50 L187.0,312.73 L187.8,313.12 L188.8,313.40 L189.7,313.36 L190.7,313.46 L191.6,313.87 L192.3,314.11 L193.0,314.21 L193.7,314.35 L194.4,314.99 L195.2,315.94 L196.0,316.17 L196.8,315.69 L197.5,315.51 L198.4,315.69 L199.2,316.08 L200.1,316.59 L201.0,316.95 L202.0,317.49 L202.7,317.50 L203.5,316.97 L204.3,317.07 L205.1,317.31 L205.9,317.05 L206.7,317.06 L207.5,317.13 L208.4,316.47 L209.2,316.21 L210.0,316.74 L210.8,317.08 L211.6,317.32 L212.5,317.32 L213.3,317.34 L214.2,317.21 L215.0,316.54 L215.8,315.92 L216.6,315.58 L217.3,315.61 L218.0,316.06 L219.0,316.86 L219.9,317.11 L220.8,316.30 L221.5,315.84 L222.3,315.75 L223.0,315.06 L223.9,314.63 L224.6,314.78 L225.4,314.72 L226.2,314.51 L227.0,314.45 L227.8,314.18 L228.6,313.72 L229.5,313.77 L230.4,314.14 L231.1,314.51 L231.8,314.69 L232.5,314.02 L232.9,313.13 L233.4,312.37 L234.0,311.42 L234.5,311.13 L235.0,310.77 L235.6,310.30 L236.3,310.05 L236.9,309.44 L237.5,308.40 L238.0,307.35 L239.1,306.94 L240.1,307.51 L241.0,307.60 L241.8,306.68 L242.6,305.31 L243.4,305.20 L243.7,305.78 L243.9,305.75 L244.2,305.92 L244.5,307.08 L244.7,308.56 L245.0,309.36 L245.3,309.86 L245.6,311.09 L246.0,312.44 L246.5,312.86 L246.9,312.98 L247.4,313.85 L247.9,315.06 L248.5,315.74 L249.2,315.76 L250.0,316.38 L250.6,317.07 L251.3,316.86 L252.1,316.14 L252.9,315.77 L253.8,316.15 L254.6,316.67 L255.5,317.01 L256.3,317.27 L257.2,317.50 L258.0,317.60 L258.8,317.34 L259.6,316.95 L260.4,316.80 L261.2,317.20 L262.0,317.58 L262.8,317.13 L263.6,316.56 L264.4,316.86 L265.2,317.41 L266.0,317.12 L266.8,317.15 L267.6,317.92 L268.3,317.89 L269.1,317.32 L269.9,317.16 L270.7,317.51 L271.5,317.84 L272.3,317.74 L273.1,317.73 L274.0,317.95 L274.8,317.88 L275.6,317.59 L276.4,317.30 L277.3,316.75 L278.1,316.34 L279.0,316.78 L279.9,316.96 L280.7,316.44 L281.6,316.08 L282.4,315.85 L283.2,315.77 L284.0,315.92 L284.9,316.65 L285.7,317.25 L286.5,316.92 L287.3,316.91 L288.1,317.42 L288.9,317.61 L289.7,317.45 L290.4,317.16 L291.2,317.06 L292.0,317.00 L292.8,316.71 L293.7,316.82 L294.5,317.07 L295.4,317.14 L296.2,317.32 L297.1,316.92 L297.9,316.53 L298.7,316.57 L299.4,316.56 L300.0,316.46 L301.0,316.45 L301.8,316.97 L302.4,317.35 L303.1,317.60 L304.0,317.92 L304.8,317.85 L305.6,317.63 L306.4,318.04 L307.3,319.00 L308.2,319.25 L309.1,319.30 L310.0,319.62 L310.9,319.58 L311.8,319.61 L312.7,320.00 L313.6,320.10 L314.5,319.78 L315.3,319.53 L316.0,319.70 L317.0,319.73 L317.8,319.27 L318.6,319.23 L319.4,319.58 L320.2,319.49 L321.0,319.59 L321.9,319.72 L323.0,319.17 L323.7,318.91 L324.6,319.51 L325.5,320.53 L326.4,320.98 L327.3,320.63 L328.2,320.78 L329.0,321.38 L329.9,321.41 L330.8,321.11 L331.6,320.65 L332.4,320.32 L333.2,320.39 L334.0,320.27 L334.8,319.83 L335.6,319.50 L336.3,319.13 L337.0,318.69 L337.7,318.36 L338.4,318.17 L339.4,318.27 L340.3,318.74 L341.1,318.97 L341.6,318.65" fill="none" stroke="#3C82CC" stroke-width="1.2" stroke-linejoin="round" stroke-linecap="round"/><path d="M28.0,354.02 L28.5,354.28 L29.3,354.52 L30.2,354.99 L31.2,355.53 L32.1,355.82 L33.0,355.98 L33.8,356.28 L34.6,356.84 L35.3,357.40 L36.1,357.59 L36.8,357.43 L37.6,357.36 L38.3,357.32 L39.1,357.07 L39.8,356.63 L40.6,356.05 L41.3,355.27 L42.0,354.63 L42.8,354.66 L43.6,354.80 L44.4,354.53 L45.2,354.26 L46.0,354.27 L47.0,354.42 L47.9,354.34 L48.8,354.24 L49.6,354.68 L50.1,355.25 L50.6,355.82 L51.1,356.37 L51.5,357.23 L52.0,358.84 L52.2,359.64 L52.4,360.32 L52.6,360.86 L52.8,361.54 L53.0,362.62 L53.2,363.79 L53.5,364.76 L53.7,365.33 L53.9,366.02 L54.1,367.01 L54.3,367.79 L54.6,368.40 L54.8,369.19 L55.0,370.26 L55.2,371.24 L55.5,371.77 L55.7,372.40 L55.9,373.37 L56.2,374.60 L56.4,375.54 L56.6,375.96 L56.8,376.55 L57.1,377.35 L57.3,378.18 L57.5,378.87 L57.8,379.39 L58.0,380.07 L58.5,381.24 L58.9,381.98 L59.2,382.42 L59.7,382.80 L60.3,383.34 L61.0,383.88 L61.6,384.07 L62.3,384.47 L63.1,385.02 L63.9,385.53 L64.8,385.97 L65.7,386.32 L66.5,386.57 L67.3,386.47 L68.0,386.56 L68.8,387.23 L69.6,387.96 L70.3,388.64 L71.0,389.18 L71.7,389.44 L72.3,389.69 L73.0,390.04 L73.8,390.38 L74.6,390.45 L75.3,390.48 L76.1,390.74 L76.8,390.86 L77.6,390.91 L78.3,390.97 L79.1,390.75 L79.8,390.28 L80.6,389.66 L81.3,389.15 L82.0,388.81 L82.8,388.46 L83.6,388.13 L84.3,387.71 L85.1,387.55 L86.0,387.80 L86.8,387.79 L87.6,387.57 L88.5,387.58 L89.3,387.82 L90.2,388.01 L91.0,388.02 L91.8,388.23 L92.6,388.66 L93.4,389.17 L94.3,389.67 L95.0,390.03 L95.8,390.33 L96.6,390.61 L97.4,390.92 L98.2,391.16 L99.1,391.20 L100.0,391.15 L100.7,390.98 L101.4,390.49 L102.1,390.05 L102.9,389.69 L103.7,389.14 L104.5,388.62 L105.3,388.18 L106.0,387.52 L106.7,386.87 L107.4,386.62 L108.2,386.36 L108.9,385.79 L109.6,385.14 L110.3,384.58 L110.9,384.25 L111.6,383.93 L112.4,383.71 L113.3,384.03 L114.1,384.61 L114.8,384.99 L115.6,385.13 L116.4,384.91 L117.0,384.63 L117.6,384.25 L118.1,383.71 L118.7,383.16 L119.3,382.40 L119.8,381.60 L120.4,380.80 L121.0,379.97 L121.4,379.49 L121.9,378.95 L122.4,378.36 L122.8,377.64 L123.3,376.70 L123.8,375.78 L124.2,374.80 L124.7,373.87 L125.1,373.19 L125.6,372.69 L126.0,372.16 L126.3,371.51 L126.7,370.66 L127.0,369.81 L127.3,369.02 L127.7,368.11 L128.0,367.16 L128.3,366.31 L128.6,365.60 L128.9,365.23 L129.2,364.59 L129.4,363.65 L129.7,362.87 L130.0,361.99 L130.3,361.24 L130.5,360.64 L130.8,359.66 L131.0,358.54 L131.3,357.83 L131.5,357.09 L131.7,356.13 L131.9,355.29 L132.2,354.58 L132.4,353.91 L132.6,353.36 L132.8,352.90 L133.0,352.41 L133.5,351.10 L134.0,349.72 L134.5,348.74 L134.9,348.43 L135.4,348.52 L135.6,348.77 L135.9,349.37 L136.1,349.92 L136.4,350.44 L136.6,351.19 L136.8,351.83 L137.1,352.62 L137.4,353.78 L137.7,355.01 L138.0,356.34 L138.2,357.11 L138.4,357.64 L138.6,358.38 L138.8,359.33 L139.0,359.97 L139.2,360.62 L139.4,361.66 L139.6,362.74 L139.8,363.90 L140.0,365.24 L140.3,366.35 L140.5,367.39 L140.7,368.11 L140.9,368.44 L141.2,369.32 L141.4,370.52 L141.6,371.12 L141.8,371.12 L142.0,371.03 L142.3,371.14 L142.5,371.00 L142.8,370.39 L143.1,369.59 L143.3,368.73 L143.6,367.92 L143.9,366.99 L144.1,366.08 L144.4,365.25 L144.6,364.04 L144.9,362.75 L145.1,361.65 L145.4,360.63 L145.6,359.75 L145.9,358.74 L146.1,357.88 L146.4,357.32 L146.6,356.61 L146.9,355.51 L147.1,354.31 L147.3,353.37 L147.5,352.70 L147.8,352.13 L148.0,351.61 L148.2,350.88 L148.4,349.89 L149.0,348.36 L149.5,347.39 L150.0,346.56 L150.6,346.48 L150.9,347.08 L151.2,347.93 L151.6,348.50 L151.9,349.07 L152.3,349.94 L152.6,350.76 L153.0,351.53 L153.3,352.75 L153.6,354.05 L153.8,354.59 L153.9,355.05 L154.1,355.63 L154.3,356.48 L154.4,357.37 L154.6,358.38 L154.7,359.53 L154.9,360.46 L155.0,361.11 L155.2,361.92 L155.3,362.77 L155.4,363.63 L155.6,364.75 L155.7,365.82 L155.9,366.74 L156.0,367.54 L156.2,368.41 L156.3,369.18 L156.5,370.04 L156.6,371.22 L156.8,372.51 L156.9,373.48 L157.0,374.12 L157.2,374.99 L157.3,376.07 L157.5,376.72 L157.6,377.13 L157.8,377.75 L158.0,378.12 L158.4,378.15 L158.8,377.82 L159.2,377.09 L159.7,376.15 L160.1,375.08 L160.6,373.82 L161.0,372.84 L161.3,372.14 L161.7,371.20 L162.0,370.13 L162.3,369.04 L162.6,367.92 L162.9,367.03 L163.2,366.57 L163.6,366.49 L163.9,366.62 L164.3,366.77 L164.6,367.39 L165.0,368.36 L165.4,369.09 L165.7,369.93 L166.1,371.16 L166.6,372.37 L167.0,373.07 L167.3,373.60 L167.7,374.52 L168.1,375.49 L168.5,376.30 L168.9,377.12 L169.3,378.04 L169.7,378.87 L170.1,379.79 L170.5,380.62 L170.9,381.05 L171.3,381.24 L171.6,381.36 L171.9,381.37 L172.2,381.11 L172.5,380.51 L172.8,379.70 L173.1,378.70 L173.4,377.86 L173.7,377.29 L173.9,376.39 L174.2,375.17 L174.5,374.02 L174.7,372.95 L175.0,372.01 L175.2,371.26 L175.4,370.37 L175.6,369.46 L175.9,368.66 L176.1,367.99 L176.3,367.17 L176.5,366.07 L176.7,365.08 L176.9,364.41 L177.1,363.74 L177.3,362.79 L177.5,361.86 L177.7,361.19 L177.8,360.52 L178.0,359.95 L178.4,358.64 L178.7,357.25 L179.1,356.31 L179.4,355.79 L179.7,355.10 L180.0,354.77 L180.3,355.15 L180.6,355.69 L180.9,356.38 L181.3,357.32 L181.6,358.30 L182.0,359.56 L182.2,360.38 L182.3,361.35 L182.5,362.34 L182.7,363.17 L182.9,364.07 L183.1,364.84 L183.3,365.31 L183.5,365.98 L183.8,366.94 L184.0,367.93 L184.2,368.82 L184.4,369.82 L184.6,370.76 L184.8,371.43 L185.0,372.15 L185.3,373.09 L185.6,373.70 L185.9,374.52 L186.2,375.58 L186.4,376.57 L186.7,377.49 L187.0,378.36 L187.3,379.23 L187.7,379.74 L188.0,380.03 L188.8,380.47 L189.6,380.40 L190.4,380.24 L191.2,380.13 L192.0,380.17 L192.8,380.62 L193.6,381.14 L194.3,381.63 L195.0,382.30 L195.5,383.07 L196.0,384.12 L196.5,385.06 L197.0,385.71 L197.5,386.32 L198.0,387.03 L198.7,387.86 L199.4,388.24 L200.2,388.36 L201.0,388.43 L201.7,388.54 L202.5,388.40 L203.4,387.99 L204.2,387.94 L205.0,387.79 L205.8,387.50 L206.6,387.35 L207.3,386.89 L208.1,386.55 L209.0,386.51 L209.8,386.51 L210.6,386.77 L211.4,387.23 L212.3,387.50 L213.2,387.46 L214.0,387.24 L214.8,387.10 L215.7,386.94 L216.6,386.49 L217.4,386.08 L218.2,385.96 L219.0,385.95 L219.9,386.01 L220.7,385.98 L221.4,386.17 L222.2,386.50 L223.0,386.79 L223.7,386.83 L224.4,386.30 L225.1,385.84 L225.7,385.33 L226.4,384.47 L227.0,383.83 L227.6,383.19 L228.1,382.49 L228.6,382.00 L229.0,381.45 L229.5,380.77 L230.0,379.97 L230.3,379.53 L230.7,378.98 L231.0,378.26 L231.3,377.37 L231.7,376.34 L232.0,375.63 L232.3,374.98 L232.7,374.03 L233.0,372.97 L233.3,372.22 L233.5,371.43 L233.8,370.49 L234.1,369.82 L234.4,369.10 L234.6,368.20 L234.9,367.41 L235.2,366.57 L235.5,365.76 L235.7,364.93 L236.0,363.94 L236.2,363.10 L236.5,362.26 L236.7,361.36 L236.9,360.57 L237.2,359.95 L237.4,359.33 L237.6,358.43 L237.8,357.27 L238.1,356.38 L238.3,355.71 L238.5,355.05 L238.8,354.67 L239.0,354.27 L239.5,353.05 L240.0,351.95 L240.6,351.05 L241.1,350.46 L241.6,349.99 L242.0,349.54 L242.4,349.46 L242.7,349.79 L243.1,350.43 L243.4,351.36 L243.7,352.48 L244.0,353.92 L244.1,354.39 L244.2,354.97 L244.3,355.83 L244.4,356.71 L244.5,357.48 L244.6,358.21 L244.7,358.71 L244.8,359.36 L244.9,360.41 L245.0,361.36 L245.1,362.24 L245.2,363.23 L245.3,363.98 L245.4,364.57 L245.5,365.70 L245.6,366.93 L245.7,367.67 L245.8,368.29 L245.9,368.96 L246.0,369.84 L246.1,370.84 L246.2,371.56 L246.4,372.63 L246.5,373.82 L246.6,374.64 L246.7,375.37 L246.8,376.25 L246.9,377.30 L247.1,378.26 L247.2,379.24 L247.3,380.21 L247.4,380.75 L247.6,381.06 L247.7,381.54 L247.8,382.32 L248.0,383.16 L248.4,384.14 L248.9,384.81 L249.3,385.95 L249.8,386.71 L250.4,386.95 L251.0,387.30 L251.7,387.29 L252.5,387.02 L253.4,387.20 L254.3,387.51 L255.1,387.44 L256.0,386.94 L256.8,386.40 L257.7,386.19 L258.5,385.80 L259.3,385.34 L260.2,385.12 L261.0,385.04 L261.8,385.24 L262.6,385.36 L263.4,385.24 L264.2,385.58 L265.1,386.18 L266.0,386.16 L266.8,385.93 L267.6,386.05 L268.5,385.95 L269.4,385.39 L270.3,385.11 L271.2,385.20 L272.1,385.29 L273.0,385.24 L273.9,384.94 L274.8,385.00 L275.7,385.67 L276.6,386.00 L277.4,385.81 L278.3,385.92 L279.2,386.41 L280.0,386.63 L280.9,386.52 L281.8,386.51 L282.7,386.61 L283.6,386.51 L284.5,386.17 L285.3,385.97 L286.0,385.87 L286.9,385.49 L287.8,384.92 L288.5,384.38 L289.3,384.25 L290.0,384.38 L290.9,384.28 L291.8,384.02 L292.7,383.70 L293.6,383.62 L294.3,384.03 L295.0,384.79 L295.7,385.62 L296.3,386.32 L297.0,386.72 L297.8,386.48 L298.5,385.68 L299.3,384.92 L300.0,384.62 L300.7,384.74 L301.4,385.30 L302.2,386.20 L303.0,386.99 L303.7,387.54 L304.5,387.89 L305.3,388.22 L306.1,388.77 L307.0,389.14 L307.8,389.38 L308.6,389.52 L309.5,389.66 L310.4,390.05 L311.2,390.38 L312.0,390.63 L312.9,390.57 L313.7,390.31 L314.5,390.38 L315.3,390.51 L316.0,390.41 L316.9,389.85 L317.7,388.97 L318.5,388.29 L319.4,388.20 L320.1,388.78 L320.8,389.45 L321.4,389.76 L322.2,390.16 L323.0,390.93 L323.8,391.44 L324.6,391.77 L325.5,392.21 L326.4,392.27 L327.2,392.36 L328.0,392.98 L328.9,393.34 L329.7,393.46 L330.5,393.45 L331.2,393.27 L332.0,393.20 L332.6,392.88 L333.3,392.30 L333.9,391.58 L334.5,390.63 L335.1,390.10 L335.6,389.65 L336.1,388.76 L336.6,388.06 L337.1,387.24 L337.6,385.96 L338.0,385.02 L338.4,384.69 L339.0,384.96 L339.5,385.84 L340.0,386.65 L340.4,387.48 L340.9,388.63 L341.3,389.47 L341.6,390.03" fill="none" stroke="#FF8A1E" stroke-width="1.2" stroke-linejoin="round" stroke-linecap="round"/><path d="M28.0,387.62 L28.6,387.75 L29.3,387.99 L30.2,388.26 L31.2,388.34 L32.2,388.47 L33.0,388.64 L33.8,388.97 L34.6,389.65 L35.4,390.14 L36.2,390.35 L37.0,390.43 L37.7,390.28 L38.4,389.90 L39.1,389.47 L39.9,388.97 L40.6,388.20 L41.3,387.41 L42.0,386.85 L42.9,386.30 L43.7,385.80 L44.4,385.38 L45.2,385.07 L46.0,384.65 L46.8,384.05 L47.7,383.36 L48.5,382.83 L49.3,382.42 L50.0,382.04 L50.6,382.25 L51.1,382.99 L51.5,383.88 L52.0,385.03 L52.2,385.38 L52.4,386.06 L52.6,386.64 L52.8,387.35 L53.0,388.26 L53.2,389.11 L53.4,389.97 L53.6,390.79 L53.8,391.69 L54.0,392.53 L54.3,393.40 L54.5,394.38 L54.8,395.10 L55.0,395.84 L55.3,396.68 L55.5,397.48 L55.8,398.31 L56.1,399.16 L56.4,400.16 L56.6,401.27 L56.9,402.18 L57.2,402.91 L57.5,403.74 L57.8,404.51 L58.1,405.28 L58.4,406.02 L58.7,406.48 L59.0,406.99 L59.6,408.11 L60.3,408.70 L60.9,408.82 L61.5,409.00 L62.2,409.37 L63.0,409.91 L63.6,410.36 L64.3,410.46 L65.1,410.65 L65.8,411.05 L66.6,411.29 L67.4,411.59 L68.2,411.85 L69.0,412.11 L69.7,412.58 L70.5,412.95 L71.3,413.16 L72.0,413.33 L72.8,413.53 L73.6,413.74 L74.4,413.95 L75.2,414.30 L76.0,414.68 L76.9,414.62 L77.8,414.18 L78.6,413.81 L79.5,413.43 L80.4,413.24 L81.2,413.31 L82.1,413.18 L83.0,413.07 L83.9,413.12 L84.8,413.18 L85.7,413.02 L86.6,412.73 L87.5,412.78 L88.3,413.00 L89.2,413.20 L90.0,413.40 L90.9,413.30 L91.8,413.28 L92.7,413.69 L93.5,413.97 L94.3,414.10 L95.1,414.29 L95.8,414.22 L96.7,414.42 L97.5,414.98 L98.3,415.31 L99.1,415.34 L100.0,415.16 L100.7,415.07 L101.4,414.84 L102.2,414.33 L103.0,413.75 L103.7,413.15 L104.5,412.59 L105.3,412.17 L106.0,411.93 L106.9,411.57 L107.7,411.23 L108.5,410.99 L109.3,410.72 L110.2,410.37 L111.0,410.35 L111.9,410.86 L112.8,411.00 L113.7,410.90 L114.6,411.19 L115.5,411.44 L116.4,411.35 L117.1,411.08 L117.8,410.65 L118.4,410.22 L119.1,409.68 L119.8,408.93 L120.5,408.35 L121.3,407.87 L122.0,407.06 L122.5,406.51 L123.0,405.82 L123.5,404.86 L124.0,404.18 L124.6,403.85 L125.1,403.28 L125.6,402.28 L126.2,401.37 L126.7,400.61 L127.2,399.87 L127.7,399.22 L128.1,398.43 L128.5,397.62 L129.0,396.89 L129.5,396.48 L129.9,395.92 L130.3,394.81 L130.6,393.75 L131.0,392.97 L131.3,392.24 L131.6,391.60 L132.0,390.86 L132.6,389.68 L133.2,388.61 L133.7,387.61 L134.3,386.96 L134.9,386.90 L135.4,387.06 L135.7,387.16 L136.0,387.55 L136.2,388.25 L136.5,389.23 L136.8,390.18 L137.0,391.03 L137.3,392.00 L137.5,392.88 L137.8,393.74 L138.1,394.60 L138.4,395.22 L138.8,396.12 L139.1,397.37 L139.5,398.51 L139.9,399.32 L140.3,400.16 L140.7,401.00 L141.1,401.51 L141.6,401.90 L142.0,402.13 L142.3,402.05 L142.7,401.75 L143.0,401.35 L143.4,400.52 L143.8,399.26 L144.2,398.14 L144.5,397.24 L144.9,396.27 L145.3,395.31 L145.7,394.60 L146.0,393.93 L146.4,393.22 L147.0,392.14 L147.6,390.97 L148.3,389.90 L148.9,389.25 L149.5,388.86 L150.1,388.57 L150.6,388.38 L151.0,388.46 L151.4,388.89 L151.8,389.56 L152.2,390.47 L152.6,391.29 L153.0,392.23 L153.4,393.45 L153.8,394.62 L154.1,395.30 L154.3,396.22 L154.6,397.12 L154.9,397.72 L155.2,398.30 L155.5,399.13 L155.8,399.99 L156.1,400.85 L156.4,401.93 L156.7,402.87 L156.9,403.73 L157.2,404.66 L157.5,405.29 L157.8,405.64 L158.0,405.92 L158.6,406.28 L159.1,406.00 L159.6,405.02 L160.1,403.88 L160.5,402.84 L161.0,401.92 L161.6,401.20 L162.2,400.34 L162.7,399.15 L163.3,398.26 L163.8,398.06 L164.2,398.64 L164.5,399.67 L164.8,400.51 L165.1,401.21 L165.5,402.22 L166.0,403.24 L166.5,403.98 L167.1,404.66 L167.7,405.09 L168.4,405.63 L169.1,406.29 L169.8,406.85 L170.4,407.36 L171.0,407.39 L171.4,406.87 L171.9,406.33 L172.3,405.83 L172.7,405.12 L173.0,404.14 L173.4,403.29 L173.8,402.60 L174.2,401.78 L174.6,400.95 L175.0,400.03 L175.4,399.03 L175.9,398.15 L176.3,397.36 L176.8,396.46 L177.3,395.51 L177.8,394.71 L178.2,394.03 L178.6,393.54 L179.0,393.28 L179.4,393.09 L179.8,393.11 L180.2,393.42 L180.5,393.85 L180.8,394.74 L181.2,395.99 L181.5,397.08 L182.0,397.97 L182.3,398.50 L182.6,399.15 L183.0,399.82 L183.3,400.71 L183.7,401.85 L184.1,402.70 L184.5,403.40 L184.9,404.21 L185.3,404.93 L185.7,405.61 L186.1,406.21 L186.5,406.70 L187.4,407.21 L188.3,407.24 L189.3,407.19 L190.2,407.16 L191.2,407.05 L192.0,407.06 L192.7,407.41 L193.4,407.91 L194.0,408.60 L194.6,409.25 L195.3,409.59 L196.0,409.88 L196.6,410.13 L197.3,410.64 L198.0,411.25 L198.7,411.68 L199.4,412.18 L200.2,412.54 L201.0,412.66 L201.8,412.76 L202.6,412.66 L203.5,412.15 L204.4,411.69 L205.4,411.61 L206.3,411.59 L207.2,411.38 L208.0,411.16 L208.9,411.14 L209.8,411.23 L210.6,411.56 L211.5,411.88 L212.3,411.85 L213.2,411.91 L214.0,412.03 L214.9,412.04 L215.8,411.99 L216.7,411.79 L217.6,411.57 L218.4,411.34 L219.2,410.98 L220.0,410.78 L220.9,410.89 L221.7,410.96 L222.5,410.74 L223.2,410.43 L224.0,410.07 L224.7,409.57 L225.4,408.98 L226.1,408.57 L226.8,408.25 L227.4,407.74 L228.0,407.10 L228.7,406.37 L229.3,405.89 L230.0,404.87 L230.3,404.35 L230.7,403.78 L231.1,403.29 L231.5,402.64 L231.9,401.79 L232.3,401.21 L232.7,400.45 L233.2,399.39 L233.6,398.68 L234.0,398.26 L234.5,397.57 L235.0,396.64 L235.5,395.58 L236.1,394.88 L236.6,394.67 L237.1,394.16 L237.5,393.38 L238.0,392.81 L238.8,391.89 L239.6,391.22 L240.3,390.75 L241.0,390.45 L241.6,390.38 L242.0,390.82 L242.5,392.02 L243.0,393.38 L243.2,393.76 L243.3,394.45 L243.5,395.21 L243.7,395.93 L243.9,396.55 L244.1,397.40 L244.2,398.32 L244.4,399.15 L244.6,399.96 L244.8,400.88 L245.0,402.00 L245.2,402.84 L245.4,403.28 L245.6,403.78 L245.9,404.80 L246.3,405.66 L246.6,406.52 L246.9,407.43 L247.3,408.18 L247.6,408.83 L248.0,409.56 L248.4,410.27 L249.1,411.12 L249.9,411.41 L250.8,411.25 L252.0,411.26 L252.6,411.34 L253.3,411.26 L254.0,411.44 L254.8,411.58 L255.6,411.33 L256.4,411.22 L257.3,411.29 L258.2,411.27 L259.1,411.24 L260.0,411.09 L260.8,411.06 L261.6,411.19 L262.4,411.11 L263.2,411.25 L264.0,411.39 L264.9,411.28 L265.7,411.39 L266.6,411.38 L267.5,411.17 L268.3,411.30 L269.2,411.75 L270.0,411.89 L270.8,411.66 L271.7,411.55 L272.6,411.67 L273.5,411.95 L274.4,412.00 L275.2,411.73 L276.1,411.76 L277.0,412.10 L277.8,412.22 L278.6,412.07 L279.3,411.81 L280.0,411.73 L281.1,411.65 L282.1,411.51 L283.0,411.81 L283.8,412.13 L284.5,411.78 L285.3,411.33 L286.0,411.22 L286.9,411.07 L287.8,410.78 L288.5,410.61 L289.3,410.47 L290.0,410.27 L290.9,410.28 L291.8,410.23 L292.7,409.78 L293.6,409.50 L294.5,410.07 L295.3,411.12 L296.2,411.70 L297.0,411.73 L297.9,411.50 L298.7,411.04 L299.6,410.59 L300.4,410.32 L301.2,410.52 L301.9,411.25 L302.7,411.90 L303.6,412.43 L304.3,412.89 L305.0,413.35 L305.7,413.36 L306.5,413.37 L307.3,413.84 L308.2,414.05 L309.0,414.00 L309.8,414.00 L310.7,414.10 L311.6,414.38 L312.5,414.79 L313.4,415.06 L314.2,414.86 L315.0,414.51 L316.0,414.14 L316.9,413.71 L317.8,413.41 L318.6,413.17 L319.4,412.86 L320.1,412.83 L320.8,413.35 L321.4,414.13 L322.1,414.74 L323.0,415.29 L323.7,415.49 L324.6,415.38 L325.5,415.55 L326.4,415.87 L327.4,416.05 L328.2,415.94 L329.0,415.81 L329.9,416.09 L330.8,416.20 L331.6,416.03 L332.3,415.82 L333.0,415.68 L333.8,415.35 L334.6,414.72 L335.3,414.10 L336.0,413.70 L336.5,413.21 L337.0,412.22 L337.5,411.31 L338.0,410.68 L338.4,410.36 L339.2,410.93 L340.0,412.05 L340.6,412.58 L341.2,413.17 L341.6,413.83" fill="none" stroke="#DE1F26" stroke-width="1.2" stroke-linejoin="round" stroke-linecap="round"/><path d="M28.0,408.83 L28.6,408.88 L29.3,408.97 L30.2,409.24 L31.2,409.46 L32.2,409.61 L33.0,409.92 L33.8,410.43 L34.6,411.11 L35.3,411.63 L36.1,411.66 L37.0,411.50 L37.7,411.41 L38.4,411.51 L39.2,411.61 L40.1,411.13 L40.9,410.30 L41.7,409.56 L42.4,408.98 L43.0,408.65 L44.0,408.15 L44.7,407.88 L45.3,407.76 L46.0,407.24 L46.7,406.52 L47.4,405.78 L48.1,405.01 L48.8,404.47 L49.4,404.26 L50.0,404.37 L50.5,404.88 L51.0,405.66 L51.5,406.73 L52.0,408.04 L52.2,408.42 L52.4,409.03 L52.6,409.97 L52.8,410.95 L53.0,411.61 L53.2,412.22 L53.4,413.16 L53.6,414.29 L53.8,415.32 L54.1,416.07 L54.3,416.80 L54.5,417.68 L54.8,418.54 L55.0,419.49 L55.3,420.33 L55.6,420.92 L55.9,421.81 L56.2,422.88 L56.5,423.87 L56.9,424.63 L57.2,425.23 L57.6,425.90 L57.9,426.66 L58.3,427.41 L58.6,428.09 L59.0,428.80 L59.7,429.65 L60.3,430.08 L61.0,430.58 L61.7,431.21 L62.5,431.52 L63.2,431.92 L64.0,432.57 L64.8,433.00 L65.6,433.06 L66.5,432.97 L67.4,433.29 L68.3,433.69 L69.1,433.76 L70.0,434.07 L70.8,434.34 L71.7,434.46 L72.5,435.01 L73.3,435.64 L74.1,435.85 L75.0,435.92 L76.0,435.92 L76.7,435.52 L77.5,435.22 L78.3,435.26 L79.1,435.03 L79.9,434.90 L80.7,435.15 L81.5,435.13 L82.4,434.88 L83.2,434.91 L84.0,434.85 L84.8,434.48 L85.7,434.21 L86.5,434.10 L87.4,434.35 L88.3,434.54 L89.1,434.28 L89.9,434.28 L90.7,434.72 L91.4,434.98 L92.0,434.97 L93.2,435.20 L94.1,435.61 L94.9,435.98 L95.8,436.06 L96.6,436.12 L97.4,436.42 L98.2,436.50 L99.0,436.43 L100.0,436.43 L100.8,436.23 L101.6,436.01 L102.5,435.79 L103.4,435.20 L104.3,434.69 L105.2,434.48 L106.0,434.25 L106.8,433.94 L107.6,433.50 L108.3,432.91 L109.1,432.63 L109.8,432.50 L110.6,431.90 L111.3,431.42 L112.2,431.52 L113.0,431.77 L113.9,432.06 L114.7,432.59 L115.6,433.15 L116.4,433.13 L117.2,432.59 L118.0,432.44 L118.8,432.35 L119.5,431.76 L120.4,431.17 L121.2,430.54 L121.7,430.15 L122.2,429.57 L122.7,428.66 L123.3,428.03 L123.8,427.83 L124.4,427.28 L124.9,426.40 L125.5,425.75 L126.0,425.12 L126.4,424.52 L126.9,423.89 L127.3,422.99 L127.6,422.07 L128.0,421.16 L128.3,420.23 L128.6,419.53 L128.9,418.97 L129.2,418.19 L129.5,417.27 L129.8,416.60 L130.1,415.88 L130.5,414.80 L130.8,413.85 L131.2,413.22 L131.6,412.42 L132.0,411.36 L132.5,410.27 L132.9,409.34 L133.4,408.50 L133.8,407.72 L134.2,407.22 L134.7,406.73 L135.0,406.33 L135.4,406.07 L135.8,406.13 L136.1,406.86 L136.4,407.77 L136.7,408.54 L137.0,409.18 L137.2,409.96 L137.5,411.05 L137.8,411.99 L138.1,412.96 L138.4,414.10 L138.7,414.79 L138.9,415.60 L139.2,416.77 L139.4,417.73 L139.7,418.54 L140.0,419.60 L140.3,420.61 L140.5,421.45 L140.8,422.24 L141.1,422.94 L141.4,423.59 L141.7,424.34 L142.0,424.61 L142.5,424.27 L142.9,423.83 L143.4,423.25 L143.9,422.54 L144.4,421.85 L144.9,420.96 L145.4,420.03 L145.9,419.24 L146.4,418.60 L147.1,417.85 L147.7,416.82 L148.4,415.60 L149.1,414.74 L149.8,414.40 L150.4,414.05 L151.0,413.77 L151.5,414.03 L152.0,414.68 L152.4,415.50 L152.7,416.36 L153.1,417.11 L153.5,417.75 L154.0,418.50 L154.3,419.31 L154.6,420.52 L154.9,421.77 L155.2,422.77 L155.6,423.43 L155.9,424.25 L156.2,425.45 L156.5,426.42 L156.9,426.92 L157.2,427.36 L157.5,427.74 L157.8,427.89 L158.3,427.92 L158.8,427.60 L159.2,426.85 L159.7,426.06 L160.1,425.22 L160.6,423.99 L161.0,422.97 L161.5,422.22 L162.0,421.31 L162.5,420.28 L162.9,419.42 L163.4,418.94 L163.8,418.85 L164.2,419.06 L164.5,419.62 L164.8,420.47 L165.1,421.51 L165.5,422.68 L166.0,423.63 L166.5,424.37 L167.1,425.14 L167.7,425.71 L168.4,426.54 L169.1,427.60 L169.8,428.34 L170.4,428.41 L171.0,427.94 L171.5,427.54 L172.0,427.34 L172.4,426.89 L172.8,426.16 L173.3,425.19 L173.7,424.16 L174.1,423.48 L174.6,422.85 L175.0,422.19 L175.5,421.41 L176.0,420.58 L176.5,419.80 L177.1,418.96 L177.6,418.19 L178.1,417.44 L178.5,416.66 L179.0,416.42 L179.5,416.98 L180.0,417.64 L180.5,418.23 L180.9,418.87 L181.4,419.56 L182.0,420.71 L182.4,421.82 L182.8,422.69 L183.2,423.30 L183.6,423.78 L184.1,424.28 L184.6,425.21 L185.0,426.11 L185.5,426.69 L186.0,427.22 L186.5,427.60 L187.2,427.90 L188.0,428.11 L188.9,428.43 L189.7,428.71 L190.5,429.02 L191.3,429.20 L192.0,429.38 L192.9,429.98 L193.7,430.31 L194.4,430.50 L195.2,431.00 L196.0,431.39 L196.8,431.79 L197.5,432.57 L198.3,433.10 L199.1,433.43 L200.0,433.85 L201.0,434.02 L201.8,433.87 L202.6,433.85 L203.5,433.96 L204.4,433.74 L205.4,433.46 L206.3,433.39 L207.2,433.33 L208.0,433.20 L208.9,433.04 L209.8,433.06 L210.6,433.16 L211.5,433.12 L212.3,433.21 L213.2,433.48 L214.0,433.60 L214.9,433.60 L215.8,433.74 L216.7,433.68 L217.6,433.32 L218.4,433.04 L219.2,432.73 L220.0,432.52 L220.9,432.71 L221.7,432.80 L222.5,432.62 L223.2,432.55 L224.0,432.18 L224.6,431.61 L225.2,431.24 L225.8,430.78 L226.4,429.99 L227.0,429.18 L227.5,428.76 L228.0,428.42 L228.7,427.68 L229.3,427.25 L230.0,426.49 L230.3,426.13 L230.7,425.44 L231.1,424.53 L231.5,423.59 L231.9,422.66 L232.3,421.73 L232.7,420.90 L233.2,420.13 L233.6,419.49 L234.0,419.26 L234.6,418.48 L235.2,417.16 L235.8,416.16 L236.4,415.53 L236.9,415.01 L237.5,414.55 L238.0,414.16 L238.7,414.19 L239.3,414.70 L239.8,415.48 L240.4,416.59 L241.0,417.68 L241.3,418.18 L241.6,418.74 L241.9,419.32 L242.2,420.27 L242.5,421.42 L242.8,422.47 L243.1,423.24 L243.4,424.07 L243.7,425.06 L244.0,425.71 L244.4,426.37 L244.7,427.17 L245.1,428.01 L245.4,428.68 L245.8,429.33 L246.2,430.13 L246.6,430.70 L247.0,430.99 L247.7,431.63 L248.3,432.28 L249.0,432.74 L249.9,432.93 L251.0,433.02 L251.6,433.16 L252.3,433.28 L253.1,433.27 L253.9,433.39 L254.7,433.46 L255.6,433.28 L256.4,433.31 L257.3,433.33 L258.2,433.17 L259.1,433.17 L260.0,433.23 L260.8,433.26 L261.6,433.25 L262.4,433.00 L263.3,432.90 L264.1,433.26 L264.9,433.67 L265.8,433.84 L266.6,433.68 L267.5,433.49 L268.3,433.65 L269.2,433.64 L270.0,433.49 L270.8,433.65 L271.7,433.79 L272.6,433.84 L273.5,433.95 L274.4,433.99 L275.2,433.98 L276.1,434.05 L277.0,434.02 L277.8,433.84 L278.6,433.79 L279.3,433.87 L280.0,434.09 L281.1,434.14 L282.1,433.86 L283.0,433.62 L283.8,433.56 L284.5,433.40 L285.3,432.97 L286.0,432.74 L286.9,432.87 L287.8,432.88 L288.5,432.61 L289.3,432.36 L290.0,432.25 L290.9,432.07 L291.8,431.69 L292.7,431.16 L293.6,431.08 L294.5,431.67 L295.3,432.51 L296.2,433.23 L297.0,433.50 L297.9,433.26 L298.7,432.71 L299.6,432.11 L300.4,432.22 L301.2,432.78 L301.9,432.99 L302.7,433.53 L303.6,434.36 L304.4,434.76 L305.2,435.00 L306.1,435.32 L307.1,435.51 L308.0,435.48 L309.0,435.69 L309.8,436.04 L310.7,436.19 L311.6,436.23 L312.5,435.95 L313.4,435.70 L314.2,435.75 L315.0,435.80 L316.0,435.89 L316.9,435.69 L317.8,435.15 L318.6,434.71 L319.4,434.71 L320.3,435.01 L321.1,435.41 L321.9,436.19 L323.0,436.79 L323.7,436.70 L324.6,436.79 L325.5,437.17 L326.4,437.37 L327.4,437.32 L328.2,437.61 L329.0,438.06 L329.9,438.03 L330.8,437.83 L331.6,437.63 L332.3,437.29 L333.0,436.95 L333.8,436.57 L334.6,436.22 L335.3,435.82 L336.0,435.04 L336.7,434.07 L337.3,433.43 L337.9,433.00 L338.4,432.57 L339.2,432.71 L340.0,433.67 L340.6,434.29 L341.2,434.81 L341.6,435.40" fill="none" stroke="#9A1D22" stroke-width="1.2" stroke-linejoin="round" stroke-linecap="round"/><path d="M28.0,430.37 L28.5,431.08 L29.1,431.51 L29.9,431.75 L30.7,432.18 L31.6,432.67 L32.4,433.19 L33.3,433.82 L34.0,434.48 L34.8,434.84 L35.5,435.16 L36.2,435.70 L36.9,436.09 L37.6,436.53 L38.3,436.90 L39.0,436.87 L39.7,436.63 L40.5,436.18 L41.2,435.54 L41.9,435.07 L42.6,434.54 L43.3,433.78 L44.0,433.37 L44.9,433.06 L45.7,432.63 L46.5,432.11 L47.3,431.82 L48.0,431.88 L48.7,431.84 L49.3,431.87 L49.8,432.69 L50.4,434.17 L51.0,435.40 L51.3,435.78 L51.6,436.48 L51.9,437.47 L52.2,438.34 L52.5,438.96 L52.8,439.59 L53.1,440.37 L53.4,441.34 L53.7,442.40 L54.0,443.22 L54.3,443.89 L54.6,444.46 L55.0,445.34 L55.3,446.24 L55.6,447.01 L55.9,448.20 L56.3,449.01 L56.6,449.23 L57.0,449.63 L57.6,450.51 L58.1,451.42 L58.8,452.09 L59.4,452.40 L60.1,452.64 L61.0,453.06 L61.7,453.55 L62.5,453.87 L63.4,453.85 L64.2,453.77 L65.2,453.98 L66.1,454.48 L67.1,454.81 L68.0,454.81 L68.8,454.96 L69.5,455.20 L70.3,455.35 L71.1,455.57 L71.9,455.80 L72.8,455.90 L73.6,456.05 L74.4,456.46 L75.2,456.73 L76.0,456.63 L76.8,456.46 L77.6,456.39 L78.4,456.10 L79.2,455.79 L80.0,455.68 L80.8,455.52 L81.6,455.36 L82.4,455.12 L83.2,454.86 L84.0,454.57 L84.8,454.42 L85.7,454.60 L86.5,454.75 L87.4,454.91 L88.3,454.98 L89.1,454.80 L89.9,454.82 L90.7,455.02 L91.4,455.08 L92.0,454.73 L93.2,454.54 L94.1,454.85 L94.9,455.19 L95.8,455.47 L96.6,455.69 L97.4,455.93 L98.2,456.31 L99.0,456.39 L100.0,455.84 L100.8,455.46 L101.6,455.50 L102.5,455.28 L103.4,454.82 L104.3,454.32 L105.1,453.86 L106.0,453.41 L106.8,453.00 L107.6,452.90 L108.5,452.89 L109.3,452.45 L110.0,451.78 L110.8,451.44 L111.6,451.57 L112.5,451.89 L113.4,452.07 L114.2,452.50 L115.1,453.22 L115.9,453.34 L116.7,453.40 L117.5,453.69 L118.2,453.32 L118.9,452.80 L119.6,452.44 L120.4,451.91 L121.2,451.32 L121.7,450.89 L122.3,450.16 L122.9,449.60 L123.5,449.24 L124.1,448.46 L124.7,447.58 L125.3,446.85 L125.9,446.20 L126.4,445.56 L126.9,444.80 L127.4,444.02 L127.8,443.28 L128.2,442.55 L128.6,441.71 L129.0,440.71 L129.4,439.77 L129.8,439.01 L130.1,438.46 L130.5,437.86 L130.8,436.98 L131.1,435.97 L131.4,435.08 L131.7,434.53 L131.9,433.73 L132.2,432.74 L132.4,432.11 L132.7,431.55 L132.9,430.73 L133.2,429.76 L133.4,428.96 L133.6,428.33 L134.2,426.86 L134.7,425.97 L135.1,425.75 L135.6,425.72 L136.1,425.92 L136.5,426.45 L137.0,427.36 L137.5,428.95 L137.7,429.75 L137.8,430.60 L138.0,431.24 L138.1,431.98 L138.3,433.02 L138.5,433.96 L138.6,434.73 L138.8,435.60 L139.0,436.42 L139.1,437.13 L139.3,437.78 L139.5,438.51 L139.6,439.42 L139.8,440.14 L140.1,441.43 L140.5,442.48 L140.8,443.50 L141.1,444.62 L141.5,445.33 L142.0,445.46 L142.4,445.05 L142.8,444.41 L143.3,443.81 L143.8,443.05 L144.3,442.08 L144.8,441.13 L145.4,440.37 L145.9,439.65 L146.4,438.99 L147.2,438.23 L148.0,437.53 L148.8,436.97 L149.6,436.52 L150.3,436.32 L151.0,436.41 L151.6,436.50 L152.1,436.95 L152.6,437.94 L153.0,438.94 L153.5,439.78 L154.0,440.87 L154.4,441.73 L154.8,442.32 L155.2,443.17 L155.6,444.31 L156.0,445.32 L156.4,446.27 L156.8,447.15 L157.2,447.81 L157.6,448.14 L158.2,448.04 L158.8,447.47 L159.3,446.47 L159.9,445.34 L160.5,444.31 L161.0,443.47 L161.4,442.80 L161.9,441.92 L162.3,441.04 L162.7,439.98 L163.1,438.88 L163.4,438.49 L163.8,438.52 L164.2,438.81 L164.5,439.42 L164.8,440.25 L165.1,441.49 L165.5,442.64 L166.0,443.46 L166.5,444.29 L167.1,445.15 L167.7,445.81 L168.4,446.56 L169.1,447.33 L169.8,447.53 L170.4,447.47 L171.0,447.71 L171.4,447.70 L171.9,447.27 L172.3,446.70 L172.7,446.08 L173.1,445.07 L173.4,443.77 L173.8,442.89 L174.2,442.12 L174.6,441.37 L175.0,440.95 L175.6,440.21 L176.2,439.29 L176.8,438.52 L177.4,437.86 L177.9,437.41 L178.5,437.25 L179.0,437.09 L179.5,436.94 L180.0,437.24 L180.4,438.04 L180.9,439.06 L181.4,440.08 L182.0,441.17 L182.4,442.06 L182.9,442.79 L183.4,443.31 L183.9,443.92 L184.4,444.59 L184.9,445.42 L185.4,446.35 L186.0,446.76 L186.5,447.20 L187.0,447.82 L187.8,448.24 L188.7,448.57 L189.6,448.86 L190.4,448.93 L191.2,449.12 L192.0,449.44 L192.7,449.71 L193.4,450.12 L194.0,450.71 L194.6,451.25 L195.3,451.66 L196.0,452.17 L196.8,453.03 L197.5,453.62 L198.3,453.61 L199.1,453.68 L200.0,454.20 L201.0,454.52 L201.8,454.48 L202.6,454.45 L203.5,454.34 L204.4,454.32 L205.4,454.47 L206.3,454.45 L207.2,454.09 L208.0,453.89 L208.9,454.12 L209.8,454.20 L210.6,454.08 L211.5,454.15 L212.3,454.20 L213.2,454.27 L214.0,454.43 L214.9,454.26 L215.8,454.01 L216.7,454.20 L217.6,454.26 L218.4,453.75 L219.2,453.41 L220.0,453.42 L220.9,453.42 L221.7,453.59 L222.5,453.59 L223.2,453.22 L224.0,452.95 L224.6,452.67 L225.2,451.99 L225.8,451.30 L226.4,450.70 L227.0,450.08 L227.5,449.46 L228.0,449.06 L229.1,448.75 L230.0,447.84 L230.3,447.36 L230.5,446.84 L230.8,446.25 L231.1,445.45 L231.5,444.41 L231.8,443.32 L232.1,442.45 L232.4,441.60 L232.7,440.61 L233.0,440.00 L233.3,439.30 L233.7,438.18 L234.0,437.11 L234.4,436.36 L234.7,435.57 L235.0,434.65 L235.3,433.99 L235.6,433.44 L236.1,432.05 L236.6,431.10 L237.1,430.91 L237.6,430.74 L238.0,430.64 L238.3,431.24 L238.7,432.21 L239.1,433.16 L239.6,434.19 L240.0,435.33 L240.2,435.87 L240.4,436.50 L240.7,436.99 L240.9,437.50 L241.1,438.47 L241.3,439.54 L241.6,440.36 L241.8,441.24 L242.1,442.14 L242.3,443.04 L242.5,443.96 L242.8,444.48 L243.0,445.06 L243.4,446.03 L243.7,446.72 L244.1,447.56 L244.4,448.30 L244.8,449.02 L245.2,449.68 L245.6,450.35 L246.0,451.11 L246.6,451.85 L247.2,452.51 L247.9,453.11 L248.8,453.42 L250.0,453.65 L250.6,453.70 L251.3,453.58 L252.1,453.25 L252.9,452.99 L253.7,453.22 L254.6,453.64 L255.5,453.62 L256.4,453.39 L257.4,453.50 L258.3,453.85 L259.1,453.99 L260.0,453.77 L260.8,453.43 L261.7,453.26 L262.5,453.35 L263.3,453.57 L264.2,453.85 L265.0,453.99 L265.8,454.09 L266.7,454.28 L267.5,454.31 L268.3,454.23 L269.2,454.15 L270.0,454.25 L270.8,454.42 L271.7,454.40 L272.6,454.49 L273.5,454.57 L274.4,454.54 L275.2,454.67 L276.1,454.68 L277.0,454.63 L277.8,454.64 L278.6,454.82 L279.3,455.03 L280.0,454.97 L281.1,454.87 L282.1,454.73 L283.0,454.61 L283.8,454.46 L284.5,454.38 L285.3,454.33 L286.0,454.23 L286.9,454.01 L287.8,453.75 L288.5,453.64 L289.3,453.34 L290.0,453.13 L290.9,452.98 L291.8,452.62 L292.7,452.48 L293.6,452.62 L294.5,453.13 L295.3,453.87 L296.2,454.46 L297.0,454.75 L297.9,454.51 L298.7,453.85 L299.6,453.12 L300.4,453.02 L301.2,453.59 L301.9,454.01 L302.7,454.31 L303.6,454.62 L304.4,454.95 L305.2,455.55 L306.1,455.93 L307.1,456.04 L308.0,456.05 L309.0,456.20 L309.8,456.44 L310.7,456.39 L311.6,456.28 L312.5,456.38 L313.4,456.73 L314.2,456.78 L315.0,456.35 L316.0,456.08 L316.9,456.17 L317.8,456.28 L318.6,456.07 L319.4,455.79 L320.3,455.91 L321.1,456.24 L321.9,456.53 L323.0,456.81 L323.7,456.99 L324.6,457.34 L325.5,457.70 L326.4,457.57 L327.4,457.48 L328.2,457.65 L329.0,457.59 L329.9,457.49 L330.8,457.47 L331.6,457.43 L332.3,457.26 L333.0,456.91 L333.8,456.62 L334.6,456.43 L335.3,455.94 L336.0,455.22 L336.7,454.44 L337.3,453.62 L337.9,453.08 L338.4,452.60 L339.2,452.72 L340.0,453.72 L340.6,454.47 L341.2,455.43 L341.6,456.25" fill="none" stroke="#2626BC" stroke-width="1.2" stroke-linejoin="round" stroke-linecap="round"/><path d="M28.0,457.32 L28.4,457.72 L28.9,457.94 L29.6,458.25 L30.3,459.03 L31.0,459.83 L31.8,460.45 L32.6,461.02 L33.3,461.23 L34.0,461.52 L34.7,462.28 L35.4,463.02 L36.1,463.83 L36.8,464.71 L37.5,465.36 L38.2,465.62 L38.9,465.93 L39.6,466.46 L40.4,466.59 L41.3,466.37 L42.2,466.00 L43.1,465.32 L43.9,464.97 L44.7,465.03 L45.4,465.21 L46.4,465.43 L47.2,465.37 L48.1,465.41 L49.0,466.12 L49.6,466.87 L50.2,467.51 L50.8,468.04 L51.4,468.72 L52.1,469.47 L52.7,470.09 L53.4,470.79 L54.0,471.35 L54.7,471.71 L55.4,472.06 L56.0,472.42 L56.7,472.84 L57.4,473.29 L58.2,473.82 L59.0,474.43 L59.8,474.81 L60.5,475.02 L61.3,475.10 L62.2,474.96 L63.1,475.07 L64.0,475.35 L65.0,475.39 L66.0,475.39 L66.7,475.46 L67.5,475.64 L68.3,475.95 L69.2,476.36 L70.1,476.57 L70.9,476.77 L71.8,476.98 L72.7,477.03 L73.6,477.21 L74.4,477.41 L75.2,477.58 L76.0,477.59 L76.9,477.37 L77.7,477.29 L78.5,477.22 L79.3,477.01 L80.1,476.77 L80.9,476.52 L81.7,476.37 L82.4,476.34 L83.2,476.19 L84.0,475.93 L84.8,475.93 L85.7,476.06 L86.5,476.02 L87.4,475.94 L88.3,476.17 L89.1,476.46 L89.9,476.40 L90.7,476.16 L91.4,476.24 L92.0,476.64 L93.2,476.98 L94.1,477.20 L94.9,477.22 L95.8,477.13 L96.6,477.11 L97.4,477.01 L98.2,477.02 L99.0,477.15 L100.0,476.97 L100.8,476.64 L101.6,476.41 L102.4,476.35 L103.3,476.30 L104.2,476.00 L105.1,475.53 L106.0,474.96 L106.7,474.55 L107.5,474.25 L108.2,473.81 L109.0,473.42 L109.7,472.99 L110.5,472.59 L111.2,472.51 L112.0,472.51 L112.8,472.60 L113.6,473.02 L114.4,473.43 L115.3,473.80 L116.1,474.41 L116.9,474.86 L117.7,475.03 L118.4,475.05 L119.3,474.84 L120.2,474.54 L121.1,474.18 L121.9,473.71 L122.7,473.29 L123.5,472.72 L124.1,472.08 L124.7,471.62 L125.3,471.33 L125.9,470.74 L126.4,469.80 L127.0,468.91 L127.5,468.34 L128.0,467.57 L128.3,466.77 L128.7,466.26 L129.0,465.69 L129.3,464.67 L129.6,463.56 L129.9,462.63 L130.2,461.80 L130.5,460.81 L130.8,459.87 L131.0,459.24 L131.3,458.45 L131.5,457.50 L131.8,456.59 L132.0,455.67 L132.2,454.79 L132.4,453.77 L132.6,452.74 L132.8,452.09 L133.0,451.33 L133.2,450.36 L133.4,449.72 L133.6,449.18 L134.1,447.86 L134.6,447.05 L135.1,446.48 L135.6,446.41 L136.0,446.86 L136.3,447.28 L136.7,447.85 L137.1,448.97 L137.5,450.39 L137.6,450.71 L137.8,451.43 L137.9,452.30 L138.1,453.02 L138.2,454.14 L138.3,455.23 L138.5,456.11 L138.6,456.97 L138.8,457.74 L139.0,458.64 L139.1,459.66 L139.3,460.56 L139.4,461.26 L139.6,461.84 L139.8,462.43 L140.2,463.79 L140.6,465.05 L141.1,465.98 L141.5,466.56 L142.0,467.22 L142.5,467.88 L143.0,468.30 L143.5,468.21 L144.1,467.55 L144.6,466.89 L145.2,466.20 L145.8,465.35 L146.4,464.73 L147.0,464.37 L147.6,463.77 L148.3,462.84 L149.0,461.81 L149.7,460.88 L150.4,460.13 L151.0,459.50 L151.6,459.35 L152.2,459.70 L152.6,460.40 L153.1,461.28 L153.5,462.30 L153.9,463.24 L154.4,463.94 L154.9,464.62 L155.4,465.46 L155.9,466.53 L156.4,467.54 L156.9,468.12 L157.5,468.36 L158.0,468.57 L158.4,468.59 L158.9,468.18 L159.4,467.89 L159.9,467.39 L160.4,466.08 L160.8,464.76 L161.3,464.11 L161.6,463.56 L162.0,462.85 L163.0,461.38 L163.8,461.22 L164.2,461.46 L164.5,461.94 L164.9,462.77 L165.4,463.89 L166.0,464.93 L166.5,465.47 L167.1,466.11 L167.7,466.99 L168.4,468.15 L169.1,469.16 L169.8,469.56 L170.4,469.71 L171.0,469.83 L171.5,469.80 L172.0,469.33 L172.4,468.39 L172.8,467.56 L173.3,466.85 L173.7,465.95 L174.1,465.21 L174.6,464.84 L175.0,464.49 L175.7,463.62 L176.4,462.59 L177.1,461.62 L177.7,460.85 L178.4,460.42 L179.0,460.35 L179.6,460.72 L180.2,461.48 L180.7,462.30 L181.3,462.92 L182.0,463.53 L182.4,464.23 L182.9,465.18 L183.4,465.74 L183.9,466.35 L184.4,467.15 L184.9,468.03 L185.4,468.91 L186.0,469.37 L186.5,469.82 L187.0,470.62 L187.8,471.04 L188.7,470.85 L189.6,470.81 L190.4,470.76 L191.2,470.70 L192.0,470.86 L192.9,471.27 L193.7,471.81 L194.4,472.40 L195.2,473.01 L196.0,473.67 L196.7,474.25 L197.4,474.56 L198.1,474.79 L198.9,475.15 L200.0,475.33 L200.6,475.41 L201.4,475.69 L202.2,475.95 L203.0,475.97 L203.9,475.85 L204.8,475.94 L205.6,475.94 L206.5,475.89 L207.3,476.04 L208.0,476.17 L209.0,475.99 L209.9,475.67 L210.7,475.59 L211.5,475.65 L212.3,475.82 L213.2,476.01 L214.0,475.81 L214.9,475.38 L215.8,474.96 L216.7,474.63 L217.6,474.42 L218.4,474.09 L219.2,473.83 L220.0,473.91 L220.9,474.18 L221.7,474.68 L222.5,475.30 L223.2,475.29 L224.0,474.70 L224.7,474.22 L225.4,473.87 L226.1,473.04 L226.8,472.19 L227.4,471.98 L228.0,471.90 L229.1,472.11 L230.0,471.08 L230.2,470.30 L230.4,469.76 L230.6,469.40 L230.8,468.92 L231.0,468.18 L231.2,467.22 L231.5,466.23 L231.7,465.17 L231.9,464.22 L232.1,463.45 L232.4,462.32 L232.6,461.38 L232.8,460.72 L233.0,459.78 L233.2,459.11 L233.4,458.39 L233.6,457.37 L233.8,456.64 L234.0,455.87 L234.2,455.13 L234.4,454.42 L234.5,453.34 L234.7,452.20 L234.9,451.41 L235.1,450.84 L235.3,450.29 L235.4,449.72 L235.6,449.05 L235.9,447.76 L236.2,446.58 L236.5,445.71 L236.8,444.86 L237.0,443.91 L237.3,443.37 L237.6,443.35 L237.9,443.67 L238.2,444.18 L238.5,444.55 L238.7,445.30 L239.0,446.73 L239.3,447.97 L239.6,448.98 L239.7,449.56 L239.8,450.23 L240.0,450.85 L240.1,451.64 L240.2,452.55 L240.3,453.45 L240.4,454.44 L240.5,455.49 L240.7,456.28 L240.8,457.00 L240.9,457.90 L241.0,458.90 L241.2,459.75 L241.3,460.58 L241.5,461.63 L241.6,462.54 L241.8,463.31 L242.0,463.84 L242.3,464.56 L242.5,465.73 L242.8,466.92 L243.0,467.74 L243.3,468.63 L243.6,469.42 L243.8,469.90 L244.1,470.55 L244.4,471.19 L244.9,472.01 L245.5,472.60 L246.0,473.03 L246.6,473.39 L247.3,473.86 L248.0,474.43 L248.7,474.68 L249.5,474.83 L250.3,475.09 L251.2,475.40 L252.1,475.49 L253.0,475.59 L254.0,475.85 L254.7,475.70 L255.4,475.48 L256.2,475.49 L257.0,475.36 L257.8,475.31 L258.6,475.33 L259.4,475.10 L260.2,474.94 L261.1,475.06 L262.0,475.01 L262.8,474.92 L263.6,475.02 L264.4,475.42 L265.2,475.83 L266.0,475.63 L266.9,475.37 L267.7,475.62 L268.6,476.24 L269.5,476.71 L270.3,476.47 L271.2,476.01 L272.0,475.90 L272.8,475.87 L273.7,475.70 L274.6,475.67 L275.4,475.78 L276.3,475.77 L277.2,475.76 L278.0,475.81 L278.9,475.59 L279.7,475.15 L280.5,474.96 L281.3,475.09 L282.0,475.12 L283.0,474.79 L284.0,474.38 L285.0,474.18 L285.9,474.06 L286.8,474.00 L287.6,474.09 L288.3,473.98 L289.0,473.77 L290.1,473.40 L290.9,472.96 L291.6,472.88 L292.4,472.90 L293.1,472.97 L293.8,473.57 L294.5,474.46 L295.2,475.01 L296.0,475.07 L296.8,474.80 L297.8,474.29 L298.7,473.97 L299.6,473.74 L300.4,473.40 L301.2,473.70 L301.9,474.51 L302.7,475.07 L303.6,475.30 L304.4,475.50 L305.2,475.74 L306.1,475.91 L307.1,476.19 L308.0,476.29 L309.0,476.33 L309.8,476.55 L310.7,476.55 L311.6,476.64 L312.5,476.95 L313.4,476.88 L314.2,476.72 L315.0,476.82 L316.0,476.81 L316.9,476.79 L317.8,476.73 L318.6,476.38 L319.4,476.23 L320.3,476.53 L321.1,477.03 L321.9,477.59 L323.0,477.90 L323.7,477.87 L324.6,477.92 L325.5,478.04 L326.4,477.92 L327.4,477.79 L328.2,478.05 L329.0,478.17 L329.9,477.78 L330.8,477.44 L331.6,477.41 L332.3,477.32 L333.0,477.18 L333.8,476.95 L334.6,476.53 L335.3,475.97 L336.0,475.50 L336.9,474.95 L337.7,474.23 L338.4,473.93 L339.2,474.68 L340.0,475.35 L340.9,475.73 L341.6,476.21" fill="none" stroke="#3C82CC" stroke-width="1.2" stroke-linejoin="round" stroke-linecap="round"/><path d="M28.0,17.0 V487.0 M347.2,17.0 V487.0" stroke="#3a3a3a" stroke-width="1.2" fill="none"/><path d="M28.0,17.5 H347.2" stroke="#2a2a2a" stroke-width="1" fill="none"/><path d="M28.0,173.5 H347.2" stroke="#2a2a2a" stroke-width="1" fill="none"/><path d="M28.0,330.5 H347.2" stroke="#2a2a2a" stroke-width="1" fill="none"/><path d="M28.0,486.5 H347.2" stroke="#2a2a2a" stroke-width="1" fill="none"/><path d="M28.00,17.5 v3.0 M28.00,486.5 v-3.0 M40.77,17.5 v1.5 M40.77,172.0 v3.0 M40.77,329.0 v3.0 M40.77,486.5 v-1.5 M53.55,17.5 v1.5 M53.55,172.0 v3.0 M53.55,329.0 v3.0 M53.55,486.5 v-1.5 M66.33,17.5 v1.5 M66.33,172.0 v3.0 M66.33,329.0 v3.0 M66.33,486.5 v-1.5 M79.10,17.5 v3.0 M79.10,170.5 v6.0 M79.10,327.5 v6.0 M79.10,486.5 v-3.0 M91.88,17.5 v1.5 M91.88,172.0 v3.0 M91.88,329.0 v3.0 M91.88,486.5 v-1.5 M104.65,17.5 v1.5 M104.65,172.0 v3.0 M104.65,329.0 v3.0 M104.65,486.5 v-1.5 M117.42,17.5 v1.5 M117.42,172.0 v3.0 M117.42,329.0 v3.0 M117.42,486.5 v-1.5 M130.20,17.5 v3.0 M130.20,170.5 v6.0 M130.20,327.5 v6.0 M130.20,486.5 v-3.0 M142.98,17.5 v1.5 M142.98,172.0 v3.0 M142.98,329.0 v3.0 M142.98,486.5 v-1.5 M155.75,17.5 v1.5 M155.75,172.0 v3.0 M155.75,329.0 v3.0 M155.75,486.5 v-1.5 M168.53,17.5 v1.5 M168.53,172.0 v3.0 M168.53,329.0 v3.0 M168.53,486.5 v-1.5 M181.30,17.5 v3.0 M181.30,170.5 v6.0 M181.30,327.5 v6.0 M181.30,486.5 v-3.0 M194.08,17.5 v1.5 M194.08,172.0 v3.0 M194.08,329.0 v3.0 M194.08,486.5 v-1.5 M206.85,17.5 v1.5 M206.85,172.0 v3.0 M206.85,329.0 v3.0 M206.85,486.5 v-1.5 M219.62,17.5 v1.5 M219.62,172.0 v3.0 M219.62,329.0 v3.0 M219.62,486.5 v-1.5 M232.40,17.5 v3.0 M232.40,170.5 v6.0 M232.40,327.5 v6.0 M232.40,486.5 v-3.0 M245.18,17.5 v1.5 M245.18,172.0 v3.0 M245.18,329.0 v3.0 M245.18,486.5 v-1.5 M257.95,17.5 v1.5 M257.95,172.0 v3.0 M257.95,329.0 v3.0 M257.95,486.5 v-1.5 M270.73,17.5 v1.5 M270.73,172.0 v3.0 M270.73,329.0 v3.0 M270.73,486.5 v-1.5 M283.50,17.5 v3.0 M283.50,170.5 v6.0 M283.50,327.5 v6.0 M283.50,486.5 v-3.0 M296.27,17.5 v1.5 M296.27,172.0 v3.0 M296.27,329.0 v3.0 M296.27,486.5 v-1.5 M309.05,17.5 v1.5 M309.05,172.0 v3.0 M309.05,329.0 v3.0 M309.05,486.5 v-1.5 M321.82,17.5 v1.5 M321.82,172.0 v3.0 M321.82,329.0 v3.0 M321.82,486.5 v-1.5 M334.60,17.5 v3.0 M334.60,170.5 v6.0 M334.60,327.5 v6.0 M334.60,486.5 v-3.0" stroke="#2a2a2a" stroke-width="1" fill="none"/><g fill="#000" stroke="#000" stroke-width="0.3"><text x="28.00" y="10.6" font-family="Liberation Sans, sans-serif" font-size="14.4" text-anchor="middle">200</text><text x="28.00" y="501.7" font-family="Liberation Sans, sans-serif" font-size="14.4" text-anchor="middle">200</text><text x="79.10" y="10.6" font-family="Liberation Sans, sans-serif" font-size="14.4" text-anchor="middle">400</text><text x="79.10" y="501.7" font-family="Liberation Sans, sans-serif" font-size="14.4" text-anchor="middle">400</text><text x="130.20" y="10.6" font-family="Liberation Sans, sans-serif" font-size="14.4" text-anchor="middle">600</text><text x="130.20" y="501.7" font-family="Liberation Sans, sans-serif" font-size="14.4" text-anchor="middle">600</text><text x="181.30" y="10.6" font-family="Liberation Sans, sans-serif" font-size="14.4" text-anchor="middle">800</text><text x="181.30" y="501.7" font-family="Liberation Sans, sans-serif" font-size="14.4" text-anchor="middle">800</text><text x="232.40" y="10.6" font-family="Liberation Sans, sans-serif" font-size="14.4" text-anchor="middle">1000</text><text x="232.40" y="501.7" font-family="Liberation Sans, sans-serif" font-size="14.4" text-anchor="middle">1000</text><text x="283.50" y="10.6" font-family="Liberation Sans, sans-serif" font-size="14.4" text-anchor="middle">1200</text><text x="283.50" y="501.7" font-family="Liberation Sans, sans-serif" font-size="14.4" text-anchor="middle">1200</text><text x="334.60" y="10.6" font-family="Liberation Sans, sans-serif" font-size="14.4" text-anchor="middle">1400</text><text x="334.60" y="501.7" font-family="Liberation Sans, sans-serif" font-size="14.4" text-anchor="middle">1400</text><text x="110.6" y="530" font-family="Liberation Sans, sans-serif" font-size="18.6">Raman Shift (cm</text><rect x="248.5" y="518.8" width="3.1" height="1.2" stroke="none"/><text x="253.0" y="522.7" font-family="Liberation Sans, sans-serif" font-size="10.5">1</text><text x="259.0" y="530" font-family="Liberation Sans, sans-serif" font-size="18.6">)</text><text transform="translate(13.7,262.6) rotate(-90)" font-family="Liberation Sans, sans-serif" font-size="18.5" text-anchor="middle">Baseline Corrected Intensity</text><text x="343" y="35.9" font-family="Liberation Sans, sans-serif" font-size="14" text-anchor="end">A</text><text x="343" y="191.8" font-family="Liberation Sans, sans-serif" font-size="14" text-anchor="end">B</text><text x="343" y="347.5" font-family="Liberation Sans, sans-serif" font-size="14" text-anchor="end">C</text><text transform="translate(345,81.2) scale(1,1)" font-family="Liberation Sans, sans-serif" font-size="10" fill="#FF8A1E" stroke="#FF8A1E" text-anchor="end">0.35 V</text><text transform="translate(345,111.5) scale(1,1)" font-family="Liberation Sans, sans-serif" font-size="10" fill="#DE1F26" stroke="#DE1F26" text-anchor="end">0.15 V</text><text transform="translate(345,129.3) scale(1,1)" font-family="Liberation Sans, sans-serif" font-size="10" fill="#9A1D22" stroke="#9A1D22" text-anchor="end">0.00 V</text><text transform="translate(345,144.60000000000002) scale(1,1)" font-family="Liberation Sans, sans-serif" font-size="10" fill="#2626BC" stroke="#2626BC" text-anchor="end">-0.15 V</text><text transform="translate(345,162.4) scale(1,1)" font-family="Liberation Sans, sans-serif" font-size="10" fill="#3C82CC" stroke="#3C82CC" text-anchor="end">-0.35 V</text><text transform="translate(345,211.5) scale(1,1)" font-family="Liberation Sans, sans-serif" font-size="10" fill="#FF8A1E" stroke="#FF8A1E" text-anchor="end">0.35 V</text><text transform="translate(345,242.3) scale(1,1)" font-family="Liberation Sans, sans-serif" font-size="10" fill="#DE1F26" stroke="#DE1F26" text-anchor="end">0.15 V</text><text transform="translate(345,274.0) scale(1,1)" font-family="Liberation Sans, sans-serif" font-size="10" fill="#9A1D22" stroke="#9A1D22" text-anchor="end">0.00 V</text><text transform="translate(345,296.5) scale(1,1)" font-family="Liberation Sans, sans-serif" font-size="10" fill="#2626BC" stroke="#2626BC" text-anchor="end">-0.15 V</text><text transform="translate(345,314.90000000000003) scale(1,1)" font-family="Liberation Sans, sans-serif" font-size="10" fill="#3C82CC" stroke="#3C82CC" text-anchor="end">-0.35 V</text><text transform="translate(345,379.3) scale(1,1)" font-family="Liberation Sans, sans-serif" font-size="10" fill="#FF8A1E" stroke="#FF8A1E" text-anchor="end">0.35 V</text><text transform="translate(345,406.7) scale(1,1)" font-family="Liberation Sans, sans-serif" font-size="10" fill="#DE1F26" stroke="#DE1F26" text-anchor="end">0.15 V</text><text transform="translate(345,428.8) scale(1,1)" font-family="Liberation Sans, sans-serif" font-size="10" fill="#9A1D22" stroke="#9A1D22" text-anchor="end">0.00 V</text><text transform="translate(345,450.8) scale(1,1)" font-family="Liberation Sans, sans-serif" font-size="10" fill="#2626BC" stroke="#2626BC" text-anchor="end">-0.15 V</text><text transform="translate(345,471.3) scale(1,1)" font-family="Liberation Sans, sans-serif" font-size="10" fill="#3C82CC" stroke="#3C82CC" text-anchor="end">-0.35 V</text><text transform="translate(36.9,45.1) scale(1,1)" font-family="Liberation Sans, sans-serif" font-size="10">a</text><text transform="translate(47.7,43.8) scale(1,1)" font-family="Liberation Sans, sans-serif" font-size="10">b</text><text transform="translate(81,91.8) scale(1,1)" font-family="Liberation Sans, sans-serif" font-size="10">c</text><text transform="translate(92.0,92.0) scale(1,1)" font-family="Liberation Sans, sans-serif" font-size="10">d</text><text transform="translate(107.4,87.5) scale(1,1)" font-family="Liberation Sans, sans-serif" font-size="10">e</text><text transform="translate(121,76.0) scale(1,1)" font-family="Liberation Sans, sans-serif" font-size="10">f</text><text transform="translate(130.6,39.0) scale(1,1)" font-family="Liberation Sans, sans-serif" font-size="10">g</text><text transform="translate(150.8,45.0) scale(1,1)" font-family="Liberation Sans, sans-serif" font-size="10">t</text><text transform="translate(162.3,64.0) scale(1,1)" font-family="Liberation Sans, sans-serif" font-size="10">h</text><text transform="translate(181.6,56.3) scale(1,1)" font-family="Liberation Sans, sans-serif" font-size="10">i</text><text transform="translate(194.6,81.8) scale(1,1)" font-family="Liberation Sans, sans-serif" font-size="10">j</text><text transform="translate(206.4,88.6) scale(1,1)" font-family="Liberation Sans, sans-serif" font-size="10">k</text><text transform="translate(219,87.6) scale(1,1)" font-family="Liberation Sans, sans-serif" font-size="10">l</text><text transform="translate(228,65.6) scale(1,1)" font-family="Liberation Sans, sans-serif" font-size="10">n</text><text transform="translate(238.4,45.6) scale(1,1)" font-family="Liberation Sans, sans-serif" font-size="10">o</text><text transform="translate(259,86.8) scale(1,1)" font-family="Liberation Sans, sans-serif" font-size="10">p</text><text transform="translate(271,86.8) scale(1,1)" font-family="Liberation Sans, sans-serif" font-size="10">q</text><text transform="translate(283,88.4) scale(1,1)" font-family="Liberation Sans, sans-serif" font-size="10">r</text><text transform="translate(291.6,84.6) scale(1,1)" font-family="Liberation Sans, sans-serif" font-size="10">s</text><text transform="translate(302.4,89.6) scale(1,1)" font-family="Liberation Sans, sans-serif" font-size="10">u</text><text transform="translate(318.6,94.1) scale(1,1)" font-family="Liberation Sans, sans-serif" font-size="10">v</text><text transform="translate(335.4,90.5) scale(1,1)" font-family="Liberation Sans, sans-serif" font-size="10">w</text><text transform="translate(223.6,204.6) scale(1,1)" font-family="Liberation Sans, sans-serif" font-size="10">m</text></g></svg></body></html>
